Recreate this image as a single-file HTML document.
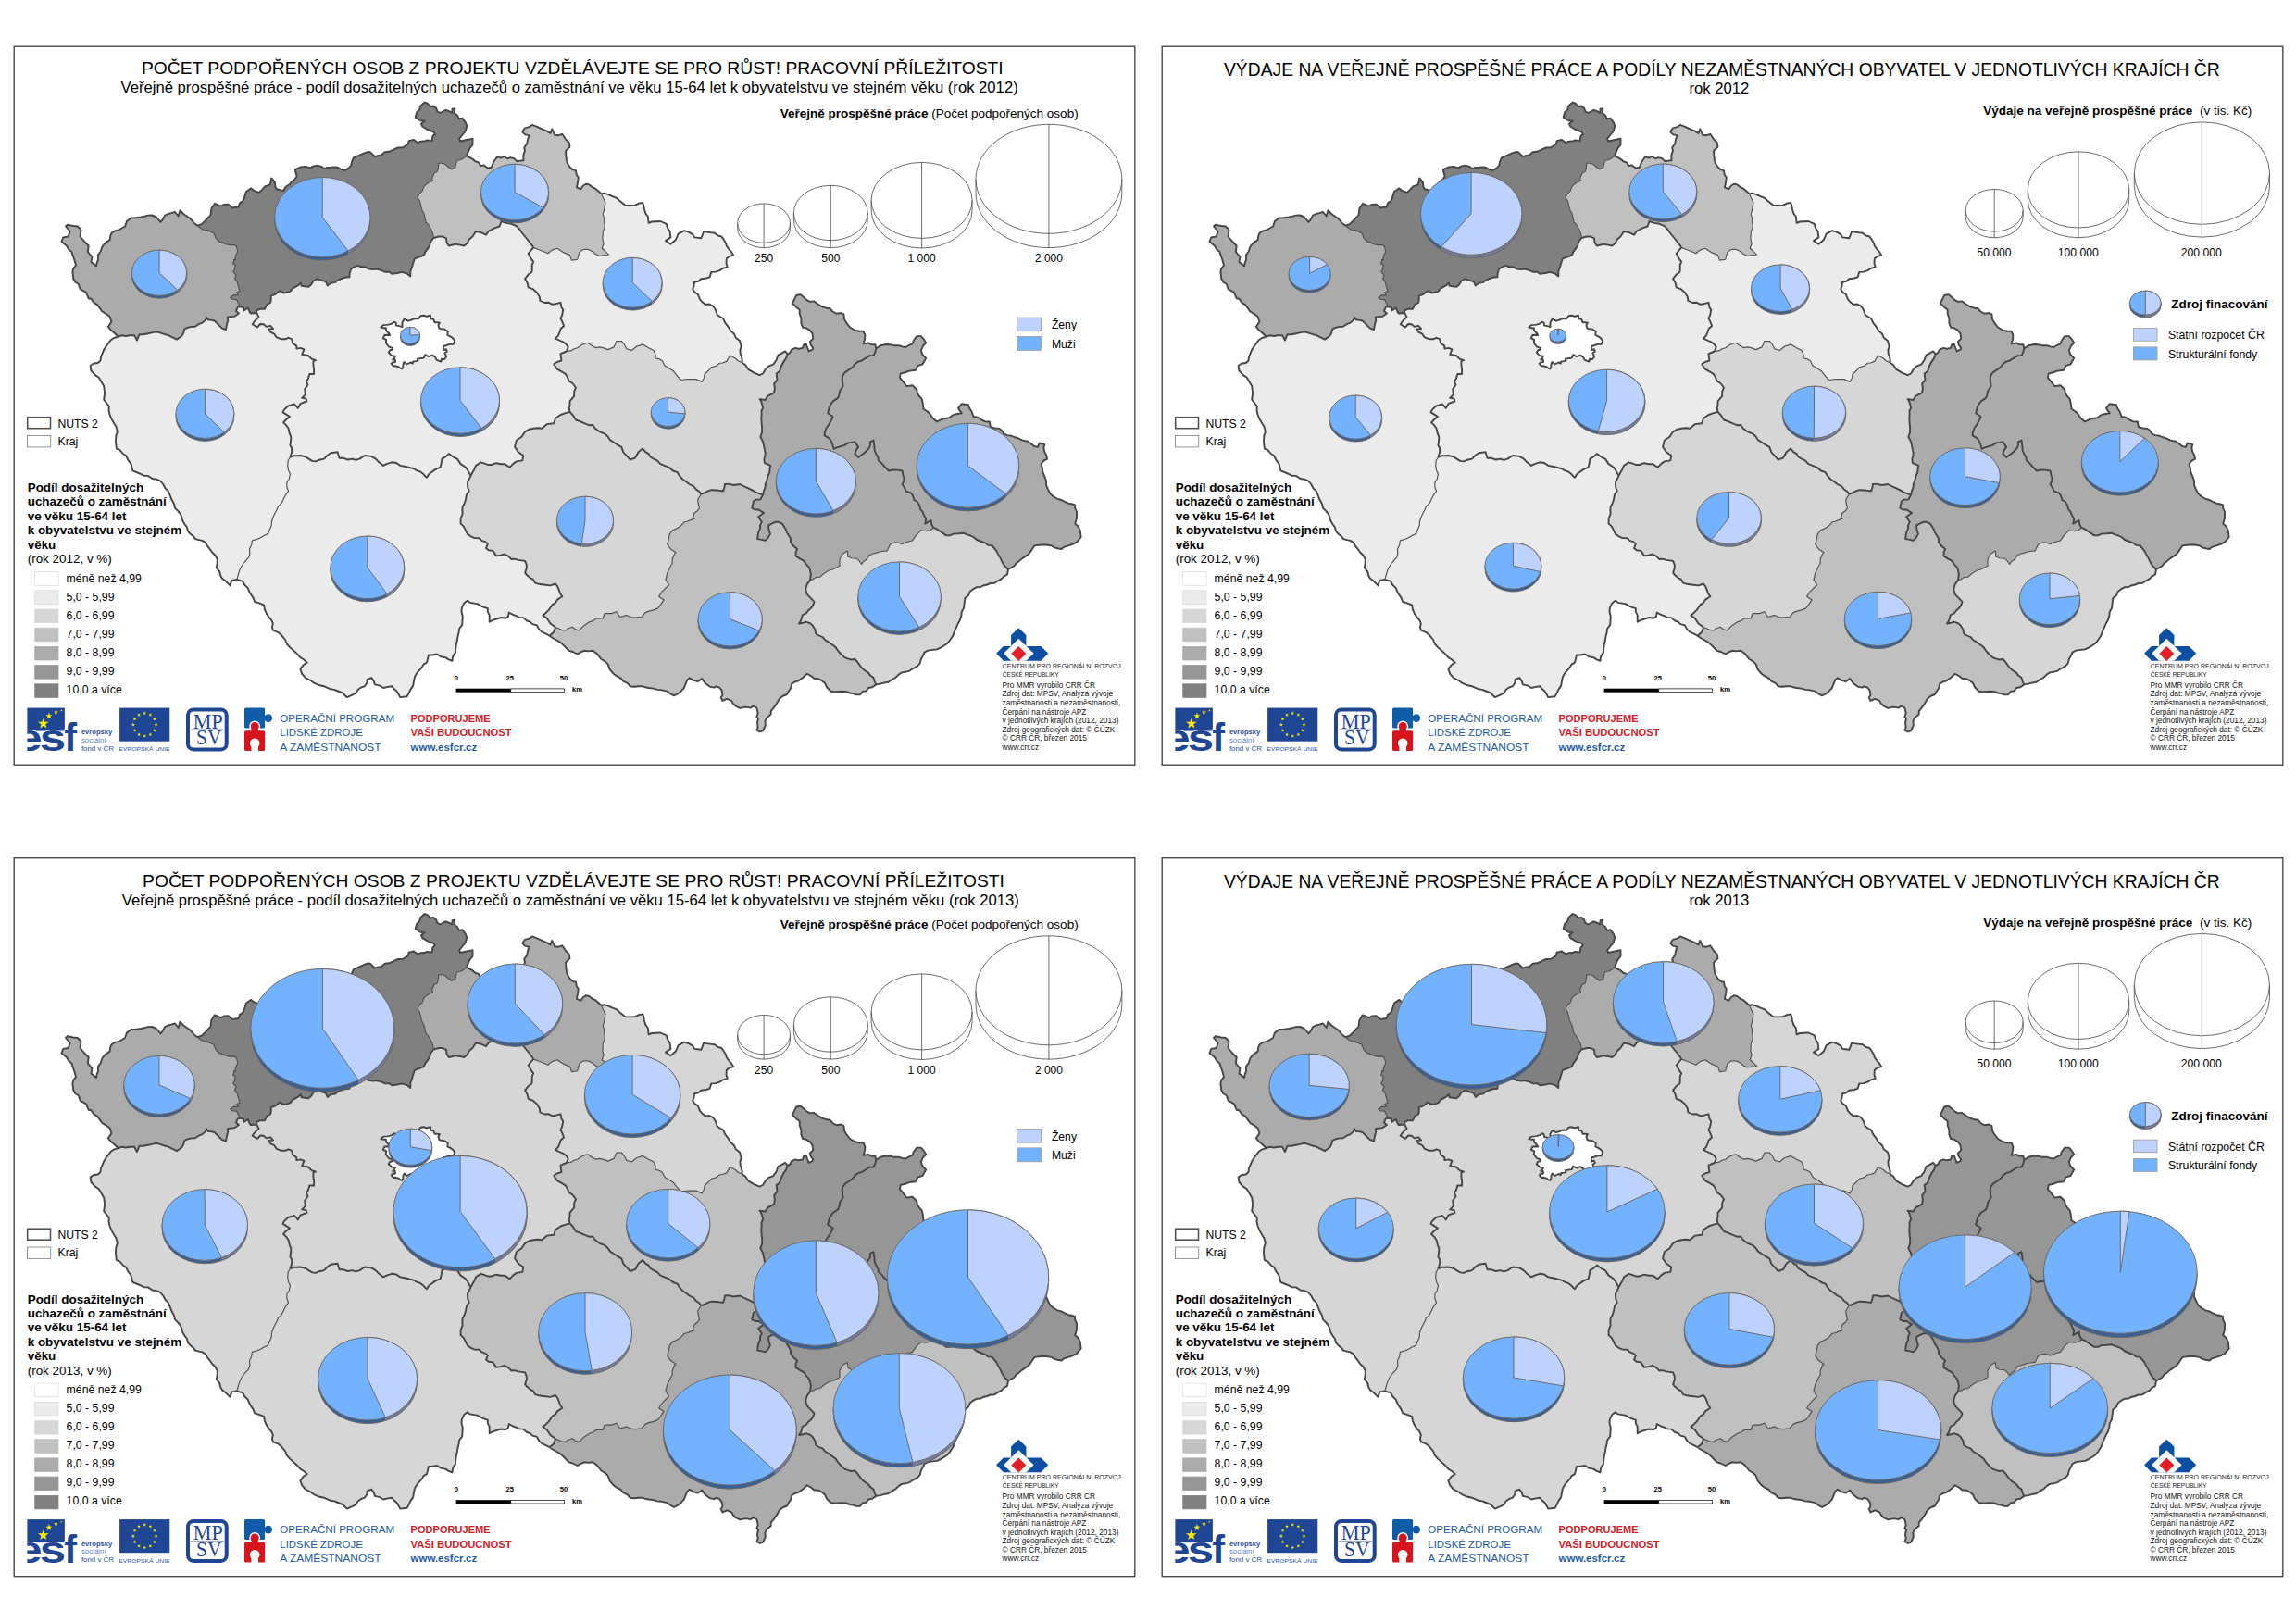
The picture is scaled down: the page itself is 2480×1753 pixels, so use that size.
<!DOCTYPE html>
<html><head><meta charset="utf-8"><title>Mapy</title>
<style>
html,body{margin:0;padding:0;background:#fff}
body{width:2480px;height:1753px;overflow:hidden;font-family:"Liberation Sans",sans-serif}
svg{display:block}
text{font-family:"Liberation Sans",sans-serif}
</style></head><body>
<svg width="2480" height="1753" viewBox="0 0 2480 1753" font-family="Liberation Sans, sans-serif">
<defs>
<path id="rKV" d="M127.7,363.5 123.2,359.3 120.1,356.8 116.8,352.9 120.4,347.4 118.6,342 115.3,339.4 110.4,336.5 107.8,332.9 104.9,329.1 101,326.6 98.5,322.7 95.7,322.3 93,315.9 86.6,312.2 84.8,306.7 81.4,304.7 79.3,301.2 78.4,293.9 79.1,290.4 82,286.6 80.2,280.2 78.5,275.7 77.4,272 74.3,269.6 72,265.5 66.5,261 68.3,256.4 73.8,255.5 75.6,250 71,244.5 72.9,242.7 79,244 83.8,244.5 87.5,248.2 86.6,255.5 91.2,261 95.7,265.5 94.8,272 99.4,277.4 98.5,282.9 104,287.5 104.7,283.7 106.1,280.4 105.8,275.6 108.7,271.7 110.4,266.5 113.5,262.6 118.6,259.1 119.2,254.9 120.4,251.8 124.4,249.3 128.7,248.2 135.1,244.5 136.9,239 141.5,235.4 146.8,235.3 152.4,234.5 155.4,233.8 159.8,232.6 164.1,232.5 168.9,234.5 173.5,239.9 176,236.6 178,232.6 181.7,231 185,230.2 189,229 192.7,233.5 194.5,227.1 198,231 201.8,233.5 205.2,235.7 208,239 209.9,241.2 213.4,243.6 216.4,246.3 220.1,248.2 224.4,248.9 228,250.4 231.1,251.8 232.9,256.8 236.6,261 241,262.4 243.9,263.7 248.4,264.6 254,264.6 255.9,267.5 256.7,272 254.4,276.8 254,281.1 253,280 251.8,284.9 254.3,286.1 253,292.2 251.8,293.4 254.9,297.1 253.7,301.3 256.1,304.4 257.9,310.5 259.1,314.8 255.5,316 257.3,319 252.4,318.7 248.8,321.5 251.2,323.3 255.5,323.6 257.9,328.2 258.5,331.2 256.7,331.8 254.9,336.1 257.9,338.5 253.7,341.6 249.7,342 245.7,342.8 246.3,345.9 245.1,350.1 243.9,356.2 239.6,354.4 236.6,351.3 231.7,346.5 228.6,345.9 224.4,345.2 223.2,342.8 222,345.6 218.6,348.6 214.6,350.2 210.7,352.7 207.3,352.9 202.9,353.7 199.1,355.7 198.2,359.5 196.3,363 190.9,366.6 185.4,363.9 181.2,361.8 178,361.2 172.8,359.3 168.9,358.4 163.8,359.4 159.8,360.2 154.9,361.3 150.6,361.2 147.9,367.6 145.1,362.1 140.2,362.2 136,363 131.3,362.3 127.7,363.5Z"/>
<path id="rUL" d="M213.4,243.6 217.8,242.1 222,238.1 224.9,234.9 227.4,232.6 228.4,225.3 232,219.8 238.4,222.6 242.3,220.9 246.6,220.7 251.2,224.4 257.6,223.5 259,219.4 262.4,217 264,213.4 265.9,207 271.3,203.4 274.8,206.2 279.6,207.9 283.2,204.9 286,201.5 291.5,199.7 292.6,196.2 293.3,192.4 297,197 297.3,201.5 298.8,204.3 302.7,205.2 306.1,206.1 308.6,201.8 312.9,199 315.2,196 318.2,194 320.7,190.5 319.5,186.6 318.9,183.2 324.4,180.5 329.9,179.9 335.4,181.4 338.2,179.6 342.7,178.7 347.2,179.8 350,182.3 353.1,181 357.9,180.8 361,180.5 364.9,180.8 368.9,183.2 372,184.1 376.5,181.6 379.3,178.7 380.1,174.5 382,170.4 388.4,167.7 393.5,165.3 397.6,164 400,164.3 404.7,169 411.8,167.4 415.7,164.3 420.6,163.8 425.9,161.1 430,159.5 435.3,159.2 440.8,155.7 441.6,152.1 447,151 451,154.1 454.8,152.7 458.8,152.5 461.1,151.4 466.6,152.1 467.4,147 469.8,144.7 468.2,142.3 462.7,140.4 456.4,136.8 454.9,133.7 458.8,130.6 454.1,130.2 448.6,126.7 450.2,121.2 453.3,118.4 454.1,114.5 458.8,110.6 461.9,111.8 464.3,114.9 468.2,114.5 471.3,116.9 472.1,120 475.3,122 481.5,118.8 485.5,120.4 488.2,122 488.6,117.6 491.3,117.2 490.9,122.3 494.1,124.7 495.6,128.2 499.6,127.8 502.7,132.1 504.3,136.1 502.7,141.6 499.6,145.5 496,149.8 497.2,152.5 504.3,151 510.5,149.8 510.5,156.4 507.8,159.6 505.9,163.6 504,168.4 501.1,170.6 498,172.5 493.7,173.3 492.5,177.2 491.7,181.5 487.8,182.7 484.7,180.7 480.7,177.2 476.8,176 473.7,176.4 473.3,181.5 472.1,185.5 469,187 466.6,192.5 467.4,195.3 462.7,197.2 458,201.1 456.4,205.8 452.5,209.8 451,213.7 453.3,216.8 454.1,220 455.5,226.2 458.2,231 459.1,235.4 460.1,239.8 462.8,242.7 465.4,247.2 467.4,251.8 468.3,257 465.3,260.9 464.3,264.6 462,268.7 459.3,272.2 457.9,275.6 453.6,277.3 447.9,279.3 446.3,284.1 445.1,288.4 443.4,292.7 443.3,298.5 439.6,295.6 434.1,293.9 429.2,295 423.2,295.7 420.5,293.8 415.6,293.7 412.2,292.1 406.7,290.5 402.8,291 397.6,290.2 394.8,288.5 389.7,288.3 386.6,286.6 383.5,288 379.3,290.2 377.7,295.3 377.4,299.4 373.3,299.5 368.3,301.1 364.6,303 361.9,305.1 357.6,305.5 353.7,308.5 351.8,304 347.2,302.9 342.7,301.2 338.5,303.5 336.2,307.2 332.9,309.9 325.6,308.7 325,305.6 321.3,308.7 315.9,311.7 313.4,314.8 306.7,316.6 302.4,314.1 297.6,317.8 292.7,319.6 292.8,324.1 292.1,327 288.4,328.8 286,333.7 281.1,333.7 276.8,335.5 277.2,338 270.7,338.5 269.5,336.7 267.7,332.4 263.4,335.5 262.8,331.8 258.5,331.2 257.9,328.2 255.5,323.6 251.2,323.3 248.8,321.5 252.4,318.7 257.3,319 255.5,316 259.1,314.8 257.9,310.5 256.1,304.4 253.7,301.3 254.9,297.1 251.8,293.4 253,292.2 254.3,286.1 251.8,284.9 253,280 254,281.1 254.4,276.8 256.7,272 255.9,267.5 254,264.6 248.4,264.6 243.9,263.7 241,262.4 236.6,261 232.9,256.8 231.1,251.8 228,250.4 224.4,248.9 220.1,248.2 216.4,246.3 213.4,243.6Z"/>
<path id="rLB" d="M504,168.4 509.8,171.3 513.7,174.5 516.8,175.3 519.2,179.2 522.3,178.4 527,181.5 530.9,180.7 533.3,174.5 537.2,169.4 541.1,170.6 544.3,169 548.2,171.3 551.3,170.2 555.3,171.1 558.4,174.1 565.4,173.3 565.4,167.4 567,162.7 566.2,159.6 569.3,154.9 570.1,150.2 571.7,146.3 567,145.1 564.2,142.3 567,138.4 571.7,137.2 574.8,134.9 580,136.8 585.4,139.3 590.2,141.4 594.5,143.9 596.3,139.3 599.1,145.7 603.6,146.2 607.3,144.8 611,150.3 614.6,154 615.5,158.5 611,163.1 611.4,168.3 611.9,173.2 613,176.4 615.5,180.5 618.7,183.3 622,184.1 622.7,188.5 624.7,191.5 624.1,196.8 622.9,202.4 627.4,204.3 629.7,200.8 632.9,198.8 636.4,199.4 640.2,202.4 643.2,203.8 646,206.2 649.4,209.2 651.6,214 654,218.9 653.2,222.9 652.4,227.5 651.2,231.7 652.7,235.3 652.5,238.6 653,242.7 653,246.5 651.2,250.3 651.2,253.7 650.8,258.2 652.1,262.8 650.3,268.3 653.7,271.3 657.6,275.2 652.6,275.5 647.6,276.5 643.7,274.7 640.2,272 636.8,269.9 632.9,269.2 629.2,269.9 625.6,272.9 624.5,277 623.8,280.2 617.4,281.1 615.5,275.6 609.1,272.9 604.8,270.2 601.8,268.3 596.3,270.1 591.8,273.8 585.4,271 580.8,269.2 576.2,267.4 574.4,264.6 571.6,261 567.1,255.5 564.6,252.5 561.6,248.2 557.9,244.1 552.4,241.8 547,240.9 541.5,239 539.6,244.5 534.9,246.1 530.5,248.2 527.6,249.9 525,253.7 521.4,251.9 518,250.7 514,250 510.4,255.5 506.7,258.7 504.5,263 501.2,265.5 497.3,264.6 492.1,263.7 489.1,264.5 484.8,265.5 482.5,262 482,257.3 477.3,255.4 473.8,255.5 468.3,257 467.4,251.8 465.4,247.2 462.8,242.7 460.1,239.8 459.1,235.4 458.2,231 455.5,226.2 454.1,220 453.3,216.8 451,213.7 452.5,209.8 456.4,205.8 458,201.1 462.7,197.2 467.4,195.3 466.6,192.5 469,187 472.1,185.5 473.3,181.5 473.7,176.4 476.8,176 480.7,177.2 484.7,180.7 487.8,182.7 491.7,181.5 492.5,177.2 493.7,173.3 498,172.5 501.1,170.6 504,168.4Z"/>
<path id="rHK" d="M649.4,209.2 652.8,208.8 656.7,209.9 660.4,211.6 666,213.8 669.5,217.1 675,221.6 679.9,221.9 686,221.6 689.7,219.8 694.2,218.9 695.2,221.9 696,226.2 697.5,230.9 699.7,233.5 700.2,237.2 700.6,240.9 704.1,239.5 708.7,239.3 713.4,239 719.8,241.8 720.8,245.7 723.5,250 724.4,256.4 718.9,260.1 724.4,263.7 729.9,259.1 732.6,252.7 739,249.1 744.5,250.9 748.5,253.4 750,256.4 757.3,257.3 758.6,254.2 760.1,250 763.3,250.6 768.8,251.4 772,251.8 775.6,254.5 779.3,255.5 781.5,258.4 783.8,262.2 784.8,265.5 787.4,269.3 789.7,271.7 792.1,275.6 787.4,277.2 784.8,279.3 784.5,284.4 785.7,288.4 780.9,289.8 777.4,292.1 772.9,293.6 768.3,293.9 766.5,299.4 762.7,300.5 757.3,301.2 754.4,303.8 750,304.9 749.5,309 748.2,312.2 750.2,315.6 753.7,317.7 756,323.4 759.1,326.8 762.2,328.9 766.2,328.5 770.1,330.5 772.8,334.5 774.7,340 778.3,342.5 781.1,343.8 783.2,348.7 786.6,352.9 789.3,357.4 792.9,360.5 794.7,364.7 799,368.1 800.7,374.2 799.3,378.4 799.8,381.9 801.6,388 801.6,391.7 797.3,389.7 793.9,386.8 788.4,384 784.8,390.4 780.5,392 777.4,392.3 773.4,395.4 768.3,396.8 765.3,400.2 761,404.1 760.6,408 758.2,412.4 751.8,409.6 744.5,409.6 740.6,409.7 735.4,410.5 732.3,406.9 729.9,404.1 727.3,400.7 724.4,398.7 718,395 715.2,389.5 712.4,387.9 707.9,386.8 708,383 706.1,378.5 700.6,375.8 694.2,372.1 687.8,374 682.3,378.5 676.8,376.7 674.1,371.7 671.3,368.5 665.9,368.5 663.1,374.9 656.7,377.6 652.1,375.9 647.6,374.9 643.9,375.6 640.2,374 634.8,370.3 630.8,371.4 627.4,373 623.8,375.8 620.1,376.7 616.6,378.9 611.9,379.5 613.7,374.9 611.2,371.5 608.2,369.4 603.9,367.5 600,365.7 603,362.4 604.6,358.4 605.7,355 609.1,352 607.5,347.8 605.5,343.8 607.2,340.1 608.2,334.6 606.3,331.7 605.5,326.8 600.4,328.2 596.3,328.7 592.6,326.8 588.2,327 583.5,325 582.7,320.4 579.9,315.9 575.4,312.1 570.7,310.4 569.6,305.4 567.1,301.2 570.6,296.6 574.4,293.9 574.8,290.9 574.7,286 576.2,282.9 573.4,279.1 570.7,273.8 573,271.2 576.2,267.4 580.8,269.2 585.4,271 591.8,273.8 596.3,270.1 601.8,268.3 604.8,270.2 609.1,272.9 615.5,275.6 617.4,281.1 623.8,280.2 624.5,277 625.6,272.9 629.2,269.9 632.9,269.2 636.8,269.9 640.2,272 643.7,274.7 647.6,276.5 652.6,275.5 657.6,275.2 653.7,271.3 650.3,268.3 652.1,262.8 650.8,258.2 651.2,253.7 651.2,250.3 653,246.5 653,242.7 652.5,238.6 652.7,235.3 651.2,231.7 652.4,227.5 653.2,222.9 654,218.9 651.6,214 649.4,209.2Z"/>
<path id="rPA" d="M801.6,391.7 805,394 808.5,399.2 814.5,402.6 820.5,405.2 824,403.5 826.6,399.2 830,395.7 835.2,393.6 838.7,388.8 840.4,383.7 843.8,381.9 848.1,379.4 850.6,382.4 849,387.1 846.4,390.6 843.8,395.7 842.1,400.9 838.7,403.5 839.5,410.4 836.1,414.7 836.9,419 836.1,424.2 832.9,425.9 829.2,427.7 826.6,432 820.5,431.1 821.3,431.6 823.2,436.4 824.1,440.7 822.5,443.8 822.6,447.7 822.3,451.7 822.6,457 823.2,462.7 823.1,466.9 821.3,471.8 824,476.8 825,481 825.8,485.1 826.8,490.1 825.4,495.9 825.9,500.2 832.3,502.9 831.6,506 831.3,509.8 829.6,513.9 828.7,517.9 826.8,523 826.5,526.6 824.7,531.2 824.1,534.4 819.2,532.8 815.9,531.3 811,528.6 806.7,526.7 803.1,525 799.4,523 792.1,524 786.9,522.6 782.9,523 782.4,526.5 781.1,530.4 773.8,529.5 768.7,529.2 764.6,530.4 760.8,532.5 757.3,533.7 755.4,531.1 751.8,528.5 749.1,525.2 744.5,523 741,520.3 737.2,517.6 734.4,514.4 731.7,510.2 727,508.5 722.6,504.8 718.3,503.1 713.4,501.1 709.8,497.3 706.1,495.6 702.3,493.3 700.6,490.1 697.4,488.3 694.2,484.6 689.6,488.3 686,494.7 680.5,496.5 677.5,492.8 673.2,488.3 671.3,482.8 666,479.8 662.2,477.3 658.8,475.1 656.7,471.8 653,468.3 647.6,466.3 642.8,462.7 640.2,459 636,459.2 631.1,457.2 626.6,455.1 622,453.5 618.9,448.5 615.5,444.8 614.7,440.5 615.5,437.4 615.5,433.4 620.1,427.9 620.2,422.6 622,418.8 618.7,414.2 614.6,411.5 612.9,407.4 611,404.1 606.5,401.3 601.8,398.7 598.2,393.2 602.2,390.8 606.4,389.5 605.5,382.2 611.9,379.5 616.6,378.9 620.1,376.7 623.8,375.8 627.4,373 630.8,371.4 634.8,370.3 640.2,374 643.9,375.6 647.6,374.9 652.1,375.9 656.7,377.6 663.1,374.9 665.9,368.5 671.3,368.5 674.1,371.7 676.8,376.7 682.3,378.5 687.8,374 694.2,372.1 700.6,375.8 706.1,378.5 708,383 707.9,386.8 712.4,387.9 715.2,389.5 718,395 724.4,398.7 727.3,400.7 729.9,404.1 732.3,406.9 735.4,410.5 740.6,409.7 744.5,409.6 751.8,409.6 758.2,412.4 760.6,408 761,404.1 765.3,400.2 768.3,396.8 773.4,395.4 777.4,392.3 780.5,392 784.8,390.4 788.4,384 793.9,386.8 797.3,389.7 801.6,391.7Z"/>
<path id="rSC" d="M277.2,338 276.8,335.5 281.1,333.7 286,333.7 288.4,328.8 292.1,327 292.8,324.1 292.7,319.6 297.6,317.8 302.4,314.1 306.7,316.6 313.4,314.8 315.9,311.7 321.3,308.7 325,305.6 325.6,308.7 332.9,309.9 336.2,307.2 338.5,303.5 342.7,301.2 347.2,302.9 351.8,304 353.7,308.5 357.6,305.5 361.9,305.1 364.6,303 368.3,301.1 373.3,299.5 377.4,299.4 377.7,295.3 379.3,290.2 383.5,288 386.6,286.6 389.7,288.3 394.8,288.5 397.6,290.2 402.8,291 406.7,290.5 412.2,292.1 415.6,293.7 420.5,293.8 423.2,295.7 429.2,295 434.1,293.9 439.6,295.6 443.3,298.5 443.4,292.7 445.1,288.4 446.3,284.1 447.9,279.3 453.6,277.3 457.9,275.6 459.3,272.2 462,268.7 464.3,264.6 465.3,260.9 468.3,257 473.8,255.5 477.3,255.4 482,257.3 482.5,262 484.8,265.5 489.1,264.5 492.1,263.7 497.3,264.6 501.2,265.5 504.5,263 506.7,258.7 510.4,255.5 514,250 518,250.7 521.4,251.9 525,253.7 527.6,249.9 530.5,248.2 534.9,246.1 539.6,244.5 541.5,239 547,240.9 552.4,241.8 557.9,244.1 561.6,248.2 564.6,252.5 567.1,255.5 571.6,261 574.4,264.6 576.2,267.4 573,271.2 570.7,273.8 573.4,279.1 576.2,282.9 574.7,286 574.8,290.9 574.4,293.9 570.6,296.6 567.1,301.2 569.6,305.4 570.7,310.4 575.4,312.1 579.9,315.9 582.7,320.4 583.5,325 588.2,327 592.6,326.8 596.3,328.7 600.4,328.2 605.5,326.8 606.3,331.7 608.2,334.6 607.2,340.1 605.5,343.8 607.5,347.8 609.1,352 605.7,355 604.6,358.4 603,362.4 600,365.7 603.9,367.5 608.2,369.4 611.2,371.5 613.7,374.9 611.9,379.5 605.5,382.2 606.4,389.5 602.2,390.8 598.2,393.2 601.8,398.7 606.5,401.3 611,404.1 612.9,407.4 614.6,411.5 618.7,414.2 622,418.8 620.2,422.6 620.1,427.9 615.5,433.4 615.5,437.4 614.7,440.5 615.5,444.8 611,446.2 605.5,448 600,451.7 598.2,457.2 590.9,458.1 585.4,462.7 581.4,462.3 576.2,462.7 571.7,463.7 567.1,466.3 563.4,471.8 557.9,475.5 556.9,478.9 556.1,482.8 559.8,488.3 565.2,492 564.3,497.4 557.9,498.4 554.3,500.9 550.6,504.8 545.1,501.1 540.9,501.2 536,500.2 530.9,502 526.8,502 523.5,500.6 519.5,499.3 514,502.9 512.1,507.4 510.4,510.2 508.5,513.9 505.8,509 503,504.8 497.6,501.1 493.9,495.6 489.6,493.6 484.8,490.1 481.6,493.1 477.4,495.6 476.7,500.2 475.6,504.8 471.4,506.4 468.3,508.4 463.4,511.9 461,515.7 459.8,514.8 457.1,511.8 454,509.4 450.6,508.4 446.3,506 441.5,504.8 436.9,503.8 432.3,502.9 428,500 423.2,499.3 418.2,500.8 414,502.9 408.5,498.4 405.8,495.6 401.2,492.9 393.9,492 388.4,495.6 384.3,496.9 380.6,495.6 375.6,496.5 371.1,494.8 366.5,494.7 364.6,488.3 357.3,489.2 353.3,492.1 350,495.6 344.9,496.7 340.9,498.4 337.2,497.9 333.5,495.6 329.8,493.2 324.4,492 320.1,492.2 317.3,492.2 313.4,493.8 315.2,488.3 315.1,483.8 313.4,481 314.1,476.2 314.3,471.8 312.6,467.6 311.6,462.7 309.5,459.7 306.1,456.3 308.7,453.4 312.9,450 309.2,447.6 305.5,445.4 307,442.4 311.4,438.3 318.1,436.5 321.8,440.9 324.7,435.8 331.4,433.5 330.6,430.6 326.2,429.8 329.9,426.1 329.2,420.2 332.5,415.8 331,412.1 332.9,409.1 334.3,404 339.1,404 339.1,398.8 338.4,394.3 338.4,389.9 341,389.2 336.6,387.7 332.9,384 326.2,382.9 328.4,377.3 324.7,375.9 320.3,376.6 320.3,373.6 316.2,370.7 315.1,366.2 311.4,364.8 308.5,366.2 303.3,366.2 298.8,364.4 295.9,360.3 292.2,358.8 290,355.5 295.1,355.1 292.2,351.8 287.7,352.9 284.8,350.3 281.1,350 278.1,353.3 275.2,351.8 272.6,350.3 274.4,347.7 277.4,344.4 279.6,342.6 277.2,338Z"/>
<path id="rPL" d="M127.7,363.5 131.3,362.3 136,363 140.2,362.2 145.1,362.1 147.9,367.6 150.6,361.2 154.9,361.3 159.8,360.2 163.8,359.4 168.9,358.4 172.8,359.3 178,361.2 181.2,361.8 185.4,363.9 190.9,366.6 196.3,363 198.2,359.5 199.1,355.7 202.9,353.7 207.3,352.9 210.7,352.7 214.6,350.2 218.6,348.6 222,345.6 223.2,342.8 224.4,345.2 228.6,345.9 231.7,346.5 236.6,351.3 239.6,354.4 243.9,356.2 245.1,350.1 246.3,345.9 245.7,342.8 249.7,342 253.7,341.6 257.9,338.5 254.9,336.1 256.7,331.8 258.5,331.2 262.8,331.8 263.4,335.5 267.7,332.4 269.5,336.7 270.7,338.5 277.2,338 279.6,342.6 277.4,344.4 274.4,347.7 272.6,350.3 275.2,351.8 278.1,353.3 281.1,350 284.8,350.3 287.7,352.9 292.2,351.8 295.1,355.1 290,355.5 292.2,358.8 295.9,360.3 298.8,364.4 303.3,366.2 308.5,366.2 311.4,364.8 315.1,366.2 316.2,370.7 320.3,373.6 320.3,376.6 324.7,375.9 328.4,377.3 326.2,382.9 332.9,384 336.6,387.7 341,389.2 338.4,389.9 338.4,394.3 339.1,398.8 339.1,404 334.3,404 332.9,409.1 331,412.1 332.5,415.8 329.2,420.2 329.9,426.1 326.2,429.8 330.6,430.6 331.4,433.5 324.7,435.8 321.8,440.9 318.1,436.5 311.4,438.3 307,442.4 305.5,445.4 309.2,447.6 312.9,450 308.7,453.4 306.1,456.3 309.5,459.7 311.6,462.7 312.6,467.6 314.3,471.8 314.1,476.2 313.4,481 315.1,483.8 315.2,488.3 313.4,493.8 311.2,497.5 310.7,502.9 311.6,507.9 313.4,512.1 312.3,517.5 309.8,521.2 309.9,526.2 311.6,530.4 308.2,535.1 306.1,539.5 304,543.7 300.6,546.8 298.8,551 296.7,555.1 295.1,558.3 293.4,563.2 293.3,567.4 291,572.5 289.6,576.6 285.5,578.2 282.3,580.2 278.2,582.3 272.3,583.9 271.7,588.5 269.5,593 269.9,598.2 268.6,602.2 265.2,605.9 262.2,609.5 260,613.3 258.5,616.8 257.4,620.6 255.8,626 250.3,626.9 248.5,632.4 243.9,627.8 240.2,625.1 238.4,622.3 237.3,617.6 233.8,613.2 234.6,609.2 234.8,604 232.5,599.7 229.3,596.7 226.4,592.7 223.8,589.4 221.8,585.9 218.3,583.9 213.9,582.8 211,582.1 209.1,579.4 205.5,576.6 203,573.6 201.8,569.3 199.3,566 197,561.9 196.3,558.3 194.5,554.7 192,551.6 189,548.7 188.1,544.5 185.4,539.5 183.5,534.6 181.7,530.4 178.8,527.7 176.2,523 173.1,519.4 168.9,517.6 164.6,517 159.8,513.9 155.4,513.7 152.4,512.1 147.3,510 143.3,508.4 142.4,504.7 141.5,501.1 138.2,496.5 136,492 132.7,490 129.5,486.1 125.9,484.6 125.2,479.3 125,475.5 125.4,470.5 126.8,466.3 125.6,461.1 123.2,457.2 120.3,452.1 118.6,448 117.6,443.7 117.7,438.9 115.2,435.5 112.2,431.6 113.1,424.3 112.2,417 109.4,412.2 106.7,407.8 102.8,405.1 98.5,400.5 97.6,395 101.4,392.5 105.6,392 108.5,389.5 109,385.3 110.4,382.2 112.2,377.8 114,374.9 116.7,371.3 119.5,367.6 123,365.1 127.7,363.5Z"/>
<path id="rJC" d="M255.8,626 257.4,620.6 258.5,616.8 260,613.3 262.2,609.5 265.2,605.9 268.6,602.2 269.9,598.2 269.5,593 271.7,588.5 272.3,583.9 278.2,582.3 282.3,580.2 285.5,578.2 289.6,576.6 291,572.5 293.3,567.4 293.4,563.2 295.1,558.3 296.7,555.1 298.8,551 300.6,546.8 304,543.7 306.1,539.5 308.2,535.1 311.6,530.4 309.9,526.2 309.8,521.2 312.3,517.5 313.4,512.1 311.6,507.9 310.7,502.9 311.2,497.5 313.4,493.8 317.3,492.2 320.1,492.2 324.4,492 329.8,493.2 333.5,495.6 337.2,497.9 340.9,498.4 344.9,496.7 350,495.6 353.3,492.1 357.3,489.2 364.6,488.3 366.5,494.7 371.1,494.8 375.6,496.5 380.6,495.6 384.3,496.9 388.4,495.6 393.9,492 401.2,492.9 405.8,495.6 408.5,498.4 414,502.9 418.2,500.8 423.2,499.3 428,500 432.3,502.9 436.9,503.8 441.5,504.8 446.3,506 450.6,508.4 454,509.4 457.1,511.8 459.8,514.8 461,515.7 463.4,511.9 468.3,508.4 471.4,506.4 475.6,504.8 476.7,500.2 477.4,495.6 481.6,493.1 484.8,490.1 489.6,493.6 493.9,495.6 497.6,501.1 503,504.8 505.8,509 508.5,513.9 506.9,517.2 504.9,521.2 505.2,526.2 506.7,530.4 504.1,534 503,539.5 501.7,543.7 499.7,547.2 499.4,550.5 499.6,555.1 497.6,560 497.6,565.6 500.7,568.4 503,572.9 505,576.9 508.5,579.3 512.7,581.1 517.7,581.2 520.2,583.9 524.4,585.3 526.8,587.6 525,592.1 527.7,594.2 532.3,594.9 536,600.4 540.8,599.6 545.1,598.5 549,600.6 552.4,604 555.7,603.6 559.8,604.9 567.1,605.9 568.6,609.6 568.9,613.2 567.1,618.7 569.3,621.3 572.6,624.1 575.9,625.9 578,629.6 582,630.8 587.2,631.5 594.5,632.4 600,630.5 602,633.1 603.7,637 605,641 607.3,644.3 601.8,647.9 600.2,650.9 596.3,653.4 592.7,658.9 589.6,661.9 586.3,664.4 590.9,668 594.5,673.5 600,677.6 598.2,682.7 593.6,686.7 589.8,684.7 585.4,682.7 582,679.3 579.9,675.4 575.2,674.1 572.6,671.7 569.1,670.5 565.2,667.1 560.7,666.9 557.9,665.3 554.2,664 549.7,661.6 548.8,666.2 546,667.7 541.2,667 537.8,668 532.7,669.6 528.7,671.7 528.7,664.4 526.8,660.9 526.8,657.1 522.6,655.8 519.5,654.3 515.5,652.1 512.2,651.6 507.7,650.9 504.9,648.8 501.2,651.6 498.8,656.6 498.5,660.7 499.8,665.7 499.4,671.7 499.2,674.9 496,679.3 495.7,682.7 494.4,687.7 493.9,691.8 492.8,696 492.1,701 491.9,704.9 489.2,708.9 488.4,713.8 484.7,712.4 481.1,710.1 476.5,709.4 472,706.5 467.1,707.5 462.8,707.4 462.2,711.3 461,715.6 457.5,717.6 455.5,721.1 450.6,726.6 448,731 447,735.7 446.2,740.6 443.3,744.9 441.4,749 439.6,752.2 432.3,753.1 428.7,746.7 425.5,744 423.2,741.2 419,741.9 414,743 410.4,740.7 404.9,739.4 403.9,735.9 401.2,732.1 396.6,733.9 396.4,737.5 393.9,741.2 389.3,742.9 386.6,744.9 384.6,748.4 381.1,750.4 374.7,753.1 370.1,748.5 365.1,746.5 361,744.9 357.1,744.3 353.1,742.6 350,741.2 345.5,740.3 343,739.4 339,737.6 334.7,734.5 329.9,732.1 326.3,727.8 324.4,722.9 327.7,718.3 331.7,715.6 327.9,712.2 324.4,710.1 321.1,706.4 317.1,702.8 313.4,699.4 309.8,695.5 308.1,691 304.3,686.3 300.8,683.2 295.1,680.9 293.9,677.7 294.8,673.4 293.3,669.9 290,665.9 287.8,662.6 285.9,658.2 285.1,653.4 279.7,651.4 275,649.8 273.5,645.6 271.3,642.4 269.3,639.1 267.7,635.1 264,631.5 262.2,627.8 255.8,626Z"/>
<path id="rVY" d="M508.5,513.9 510.4,510.2 512.1,507.4 514,502.9 519.5,499.3 523.5,500.6 526.8,502 530.9,502 536,500.2 540.9,501.2 545.1,501.1 550.6,504.8 554.3,500.9 557.9,498.4 564.3,497.4 565.2,492 559.8,488.3 556.1,482.8 556.9,478.9 557.9,475.5 563.4,471.8 567.1,466.3 571.7,463.7 576.2,462.7 581.4,462.3 585.4,462.7 590.9,458.1 598.2,457.2 600,451.7 605.5,448 611,446.2 615.5,444.8 618.9,448.5 622,453.5 626.6,455.1 631.1,457.2 636,459.2 640.2,459 642.8,462.7 647.6,466.3 653,468.3 656.7,471.8 658.8,475.1 662.2,477.3 666,479.8 671.3,482.8 673.2,488.3 677.5,492.8 680.5,496.5 686,494.7 689.6,488.3 694.2,484.6 697.4,488.3 700.6,490.1 702.3,493.3 706.1,495.6 709.8,497.3 713.4,501.1 718.3,503.1 722.6,504.8 727,508.5 731.7,510.2 734.4,514.4 737.2,517.6 741,520.3 744.5,523 749.1,525.2 751.8,528.5 755.4,531.1 757.3,533.7 753.7,539.5 754.2,543.5 755.5,548.7 753,552.1 750,554.1 748.2,560 750,560.1 746.7,561.4 742.1,563.2 739,563.8 736.5,566.9 733.5,569.3 730.1,571.3 726.2,572.9 723.3,576.9 722.6,580.2 722.1,583.5 720.7,587.6 724.4,593 729.9,596.7 727.8,599.7 726.2,604 726.2,608.5 724.4,611.3 722.5,615.5 720.7,618.7 719.9,623 718.9,626 722.6,631.5 719.3,634.8 715.2,638.8 711.6,644.3 717.1,647.9 713.4,653.4 710.3,657.1 706.1,658.9 700.8,660.1 697,661.6 693.3,666.2 686,667.1 681,666.6 676.8,664.4 673.2,665.6 669.5,666.2 665.9,660.7 660.4,662.6 653,662.6 651.2,668 643.9,668 640.9,670.4 636.6,671.7 631.1,675.4 627.8,678.6 625.6,680.9 621.6,679.8 618.3,677.2 613.7,678.8 611,680.9 607.8,680.7 603.7,679 600,677.6 594.5,673.5 590.9,668 586.3,664.4 589.6,661.9 592.7,658.9 596.3,653.4 600.2,650.9 601.8,647.9 607.3,644.3 605,641 603.7,637 602,633.1 600,630.5 594.5,632.4 587.2,631.5 582,630.8 578,629.6 575.9,625.9 572.6,624.1 569.3,621.3 567.1,618.7 568.9,613.2 568.6,609.6 567.1,605.9 559.8,604.9 555.7,603.6 552.4,604 549,600.6 545.1,598.5 540.8,599.6 536,600.4 532.3,594.9 527.7,594.2 525,592.1 526.8,587.6 524.4,585.3 520.2,583.9 517.7,581.2 512.7,581.1 508.5,579.3 505,576.9 503,572.9 500.7,568.4 497.6,565.6 497.6,560 499.6,555.1 499.4,550.5 499.7,547.2 501.7,543.7 503,539.5 504.1,534 506.7,530.4 505.2,526.2 504.9,521.2 506.9,517.2 508.5,513.9Z"/>
<path id="rJM" d="M600,677.6 603.7,679 607.8,680.7 611,680.9 613.7,678.8 618.3,677.2 621.6,679.8 625.6,680.9 627.8,678.6 631.1,675.4 636.6,671.7 640.9,670.4 643.9,668 651.2,668 653,662.6 660.4,662.6 665.9,660.7 669.5,666.2 673.2,665.6 676.8,664.4 681,666.6 686,667.1 693.3,666.2 697,661.6 700.8,660.1 706.1,658.9 710.3,657.1 713.4,653.4 717.1,647.9 711.6,644.3 715.2,638.8 719.3,634.8 722.6,631.5 718.9,626 719.9,623 720.7,618.7 722.5,615.5 724.4,611.3 726.2,608.5 726.2,604 727.8,599.7 729.9,596.7 724.4,593 720.7,587.6 722.1,583.5 722.6,580.2 723.3,576.9 726.2,572.9 730.1,571.3 733.5,569.3 736.5,566.9 739,563.8 742.1,563.2 746.7,561.4 750,560.1 748.2,560 750,554.1 753,552.1 755.5,548.7 754.2,543.5 753.7,539.5 757.3,533.7 760.8,532.5 764.6,530.4 768.7,529.2 773.8,529.5 781.1,530.4 782.4,526.5 782.9,523 786.9,522.6 792.1,524 799.4,523 803.1,525 806.7,526.7 811,528.6 815.9,531.3 819.2,532.8 824.1,534.4 821.3,539.5 816.7,539.6 814,541.3 813.3,544.3 812.2,548.7 815.5,550.5 819.5,550.5 825,554.1 819.1,558.3 822.8,563.8 821,567.4 821,571.1 819.5,574.1 818.6,577.8 818.2,582.1 822.9,582.9 826.5,583.9 829.5,581.1 832,576.6 830.5,572.3 830.1,567.4 833.6,565.7 837.4,563.8 840.9,563.8 844.8,565.6 848.4,571.1 850.1,575.5 852.1,578.4 854,581.9 853.9,585.7 856.6,589.2 861.2,593 859.7,595.9 859.4,600.4 863.9,603.4 868.5,605.9 870.8,609.5 874,613.2 875.2,616.9 875.9,620.5 874.9,626.9 872.1,630.3 870.4,635.1 870.5,638.4 872.2,642.4 876.3,646.6 879.5,649.8 878.4,653.4 875.9,657.1 873.1,659.3 870.8,662.4 866.7,664.4 865.3,669.9 863,673.5 867.4,672.8 870.4,671.7 874.8,673.1 877.7,675.4 880.3,679.7 881.3,684.5 884.7,686.5 888.7,688.2 891.3,691.3 895.1,693.6 897.8,695.5 902.6,699.1 905.1,702.8 908.4,706.5 912.4,710.1 915.6,711.3 919.7,712.5 923.4,712 926.3,715.2 928,717.6 930.7,721.1 933.5,723.8 938,726.6 940,729.6 943.5,732.1 944.9,736.6 946.3,739.4 942.1,742.3 938,743 935.6,746.4 931.8,746.8 928.9,750.4 925,750.4 921.3,749.1 917.9,748.5 914,747 908.8,746.7 903.6,747.1 897.8,746.7 897.5,746.8 893.2,742.5 891.2,738.1 887.4,734.9 883.6,733.2 879.2,732.7 876.6,730.5 871.7,727.7 867.5,731.8 862.6,735.3 858.6,736.5 855,738.8 854.3,743 851.5,747.2 850.1,750 846.1,751.5 842.4,754.1 839,759.7 836.2,763.9 832.7,768.1 832.7,771.6 827.8,775.7 826.4,779.2 826.8,783.4 824.3,789 820.8,790.4 817.4,788.6 818.7,785.5 818,780.6 819.1,775.7 817.4,774.4 818.7,770.2 817.4,764.6 813.2,762.5 811.1,764.6 805.5,763.6 799.2,764.9 794.4,762.5 791.6,759.7 790.2,756.9 785.3,754.8 780.4,756.9 778.7,753.4 780.4,750.7 779.7,745.8 776.9,742.3 773.4,741.3 771.4,742.6 766.5,741.6 761.6,737.8 758.1,732.9 753.9,736 748.4,734.6 744.9,732.2 742.1,734.6 740,740.2 738.6,743.3 735.4,746.7 732.6,749.1 728,751.3 723.8,749.1 720.7,746.7 714.8,745.3 709.8,744.9 705.7,743.6 700.6,743 697.1,742.3 693.3,741.2 689.6,741.2 684.8,741.7 680.5,741.2 677.8,737.9 673.2,735.7 670.7,732.7 665.9,730.2 662.1,727.2 658.5,722.9 656.7,717.4 652.8,713.8 649.4,712 646.9,708.7 644.1,705.5 640.2,702.8 635,703.4 631.1,702.8 627,704.5 623.8,706.5 618.6,704 614.6,702.8 611.4,699.7 609.1,697.3 605.3,693.9 601.8,691.8 597.3,689.2 593.6,686.7 598.2,682.7 600,677.6Z"/>
<path id="rOL" d="M850.6,382.4 853.3,381.1 855,377.6 859.4,375.9 862.8,376.8 867.1,375.9 868,372.5 870.6,371.6 872.3,375.9 873.6,379.4 877.5,377.6 878.3,375.9 875.7,372.5 874.9,369 878.3,365.6 877.5,360.4 874.9,356.9 870.6,354.3 867.1,353.5 865.4,349.2 865.4,344 863.7,338.8 863.7,334.5 860.2,331.9 855.9,327.6 858.5,322.4 860.2,319 864.5,318.1 868.8,321.6 871.5,324.1 874.9,325.9 879.2,325.4 883.5,328.5 887.8,331.1 893,332.8 896.5,333.2 899,336.2 903.4,338.8 908.5,338 911.5,339.7 912,344.9 914.6,349.2 918,353.5 923.4,356.7 928.2,357.7 932.6,357.6 934.4,362.2 934.1,366.1 932.6,371.3 938,370.4 940.9,372.1 945.4,372.3 946.3,376.5 945.3,380.4 943.5,384.1 939.4,384.1 936.2,386 930.7,389.6 926.7,390.7 923.4,393.3 921.3,396.2 917.9,398.8 912.4,402.4 910,406.1 909.7,409.8 910.6,417.1 907,422.6 906.7,425.6 905.1,429.9 899.6,433.5 896,439 895,442.9 894.1,446.3 899.6,450 898.1,453.4 896,457.3 892.3,462.8 890.9,467 890.5,470.1 896,473.8 898,476.5 899.6,481.1 900.5,484.8 904.4,483.1 908.8,482 912.2,480.8 916.1,478.4 923.4,477.4 927.1,482.9 924.5,486.6 923.4,490.2 927.1,493.9 930.4,491.4 934.4,488.4 938,484.8 939.9,481.6 939.9,477.4 943.5,475.6 944.5,482.9 944.6,486.3 946.3,490.2 948.4,494.1 949,497.6 952.6,500.5 954.5,503 956.9,505.4 960,508.5 964.4,507.5 969.1,507.6 974.6,508.5 975.4,513 976.5,515.9 976.3,519.6 974.6,523.2 977.4,527.2 978.3,530.5 983.8,532.3 986,535.2 987.4,540 990.7,541.9 992.9,545.5 994.2,550.1 996.6,552.8 998.3,557.4 1000.2,560.1 999.3,565.6 1005.7,562 1006.1,566.1 1008.5,570.2 1004.8,572.8 1000.2,573.8 994.8,572.9 992.6,575.1 989.3,578.4 985.6,583.9 982,584.8 978.8,585.7 974.6,587.6 969.1,585.7 964.9,586.3 961.8,587.6 960.3,590.6 958.2,594.9 950.9,595.8 946.5,597.1 941.7,598.5 938.7,600.1 936.2,604 932.3,606.8 930.7,609.5 928,605.6 925.2,603.1 919.8,602.7 916.1,601.3 915.2,594.9 909.7,598.5 907,604 907,611.3 902.7,613.5 899.6,615 896,615.8 891.4,618.4 888.7,620.5 885.7,623.1 881.6,623.4 877.7,626 874.9,626.9 875.9,620.5 875.2,616.9 874,613.2 870.8,609.5 868.5,605.9 863.9,603.4 859.4,600.4 859.7,595.9 861.2,593 856.6,589.2 853.9,585.7 854,581.9 852.1,578.4 850.1,575.5 848.4,571.1 844.8,565.6 840.9,563.8 837.4,563.8 833.6,565.7 830.1,567.4 830.5,572.3 832,576.6 829.5,581.1 826.5,583.9 822.9,582.9 818.2,582.1 818.6,577.8 819.5,574.1 821,571.1 821,567.4 822.8,563.8 819.1,558.3 825,554.1 819.5,550.5 815.5,550.5 812.2,548.7 813.3,544.3 814,541.3 816.7,539.6 821.3,539.5 824.1,534.4 824.7,531.2 826.5,526.6 826.8,523 828.7,517.9 829.6,513.9 831.3,509.8 831.6,506 832.3,502.9 825.9,500.2 825.4,495.9 826.8,490.1 825.8,485.1 825,481 824,476.8 821.3,471.8 823.1,466.9 823.2,462.7 822.6,457 822.3,451.7 822.6,447.7 822.5,443.8 824.1,440.7 823.2,436.4 821.3,431.6 820.5,431.1 826.6,432 829.2,427.7 832.9,425.9 836.1,424.2 836.9,419 836.1,414.7 839.5,410.4 838.7,403.5 842.1,400.9 843.8,395.7 846.4,390.6 849,387.1 850.6,382.4Z"/>
<path id="rMS" d="M946.3,376.5 950.9,373.2 957,372 961.8,372.3 965.6,373.2 971,373.2 974.4,374.4 978.3,375 981.6,373 985.6,371.3 986.9,367.5 990.2,363.1 994.8,363.1 997.7,366.3 1000.2,370.4 997,373.5 994.8,378.7 996.4,383 1000.2,386.9 996.6,393.3 991.1,395.1 989.3,399.7 982,400.6 977,402.5 972.8,403.4 971.9,407.9 976.5,413.4 979.2,417.1 985.6,416.2 990.2,420.7 990.8,424.5 992.9,428 995.6,430.7 996.6,434.5 997.5,441.8 1001.4,444.2 1003.9,446.3 1007.6,451.8 1012.1,455.5 1016.7,453.1 1022.2,451.8 1025.6,451.1 1029.5,448.2 1034.5,447 1038.7,446.3 1035,440.9 1038.7,436.3 1046,437.2 1046.9,440.5 1049.6,444.5 1051.5,450 1055.8,450.6 1060.6,453.7 1064.1,455.4 1068.8,455.5 1069.8,461 1074.9,462.6 1078.9,462.8 1081.9,464.7 1084.5,468.6 1088,470.1 1092.2,470.6 1095.4,472 1099.8,473.3 1104.5,475.6 1109.9,476.6 1113.7,479.3 1117.1,482 1121,482.9 1122.8,478.4 1128.3,480.2 1127.3,483.5 1128.3,488.4 1130.2,491.8 1131,495.7 1126.6,498.2 1124.6,501.2 1125.7,505.4 1126.5,510.4 1128.4,514.9 1130.1,519.5 1130,523.8 1132,528.7 1134.4,533.1 1137.4,536 1142.1,538.8 1146.6,540 1149.9,541.9 1153.9,543.7 1157.4,544.2 1161.2,545.5 1161.1,548.6 1163.1,553.1 1163,556.5 1162.8,560.5 1161.2,565.6 1164.8,568.7 1166.7,572.9 1167.6,580.2 1163,585.7 1157.9,588.2 1153.9,589.4 1149.2,590.8 1146.6,593 1143.4,592.5 1139,591.4 1135.6,589.4 1130.2,588.5 1124.6,588.5 1117.3,589.4 1113.7,594.9 1111.5,598 1108.2,600.4 1104.2,603.1 1100.9,605.9 1097.4,608.6 1095.4,611.3 1089,615 1084.4,610.4 1082.3,606.6 1080.7,603.1 1078.4,599.1 1076.2,594.9 1071.6,589.4 1067.4,588.9 1064.3,586.6 1060.1,585 1055.1,583 1051.4,580 1047.8,578.4 1044.6,577.3 1040.5,575.7 1035.6,576.2 1029.5,576.6 1026.2,578.3 1022.2,578.4 1016.7,574.8 1011.2,571.1 1008.5,570.2 1006.1,566.1 1005.7,562 999.3,565.6 1000.2,560.1 998.3,557.4 996.6,552.8 994.2,550.1 992.9,545.5 990.7,541.9 987.4,540 986,535.2 983.8,532.3 978.3,530.5 977.4,527.2 974.6,523.2 976.3,519.6 976.5,515.9 975.4,513 974.6,508.5 969.1,507.6 964.4,507.5 960,508.5 956.9,505.4 954.5,503 952.6,500.5 949,497.6 948.4,494.1 946.3,490.2 944.6,486.3 944.5,482.9 943.5,475.6 939.9,477.4 939.9,481.6 938,484.8 934.4,488.4 930.4,491.4 927.1,493.9 923.4,490.2 924.5,486.6 927.1,482.9 923.4,477.4 916.1,478.4 912.2,480.8 908.8,482 904.4,483.1 900.5,484.8 899.6,481.1 898,476.5 896,473.8 890.5,470.1 890.9,467 892.3,462.8 896,457.3 898.1,453.4 899.6,450 894.1,446.3 895,442.9 896,439 899.6,433.5 905.1,429.9 906.7,425.6 907,422.6 910.6,417.1 909.7,409.8 910,406.1 912.4,402.4 917.9,398.8 921.3,396.2 923.4,393.3 926.7,390.7 930.7,389.6 936.2,386 939.4,384.1 943.5,384.1 945.3,380.4 946.3,376.5Z"/>
<path id="rZL" d="M1089,615 1088,620.5 1084,622.9 1081.6,625.3 1077.1,627.8 1074.3,629.8 1069.8,630 1066.1,631.5 1061.8,632.5 1059.4,634 1055.1,634.2 1051.9,635.8 1047.8,638.8 1046.1,642.9 1042.3,646.1 1041.4,653.4 1040.9,657.1 1038.7,660.7 1038.3,665.6 1036.8,669.9 1035,673 1033.2,677.2 1031.1,681.6 1029.5,686.3 1025.9,691.8 1022.8,695.3 1020.6,696.8 1016.7,699.1 1012.2,701.4 1007.6,701.9 1002.3,702.6 998.4,704.6 997,708.1 994.8,712 993.8,716.3 991.1,719.3 986.7,721.8 982,724.8 978.3,725.7 974,726.4 971,728.4 967.2,732 963.7,733.9 959.4,736.7 954.5,737.6 950.9,738.6 946.3,739.4 944.9,736.6 943.5,732.1 940,729.6 938,726.6 933.5,723.8 930.7,721.1 928,717.6 926.3,715.2 923.4,712 919.7,712.5 915.6,711.3 912.4,710.1 908.4,706.5 905.1,702.8 902.6,699.1 897.8,695.5 895.1,693.6 891.3,691.3 888.7,688.2 884.7,686.5 881.3,684.5 880.3,679.7 877.7,675.4 874.8,673.1 870.4,671.7 867.4,672.8 863,673.5 865.3,669.9 866.7,664.4 870.8,662.4 873.1,659.3 875.9,657.1 878.4,653.4 879.5,649.8 876.3,646.6 872.2,642.4 870.5,638.4 870.4,635.1 872.1,630.3 874.9,626.9 877.7,626 881.6,623.4 885.7,623.1 888.7,620.5 891.4,618.4 896,615.8 899.6,615 902.7,613.5 907,611.3 907,604 909.7,598.5 915.2,594.9 916.1,601.3 919.8,602.7 925.2,603.1 928,605.6 930.7,609.5 932.3,606.8 936.2,604 938.7,600.1 941.7,598.5 946.5,597.1 950.9,595.8 958.2,594.9 960.3,590.6 961.8,587.6 964.9,586.3 969.1,585.7 974.6,587.6 978.8,585.7 982,584.8 985.6,583.9 989.3,578.4 992.6,575.1 994.8,572.9 1000.2,573.8 1004.8,572.8 1008.5,570.2 1011.2,571.1 1016.7,574.8 1022.2,578.4 1026.2,578.3 1029.5,576.6 1035.6,576.2 1040.5,575.7 1044.6,577.3 1047.8,578.4 1051.4,580 1055.1,583 1060.1,585 1064.3,586.6 1067.4,588.9 1071.6,589.4 1076.2,594.9 1078.4,599.1 1080.7,603.1 1082.3,606.6 1084.4,610.4 1089,615Z"/>
<path id="rPR" d="M411.3,353.6 414.3,351.1 417.4,350.9 419.7,350.6 423.2,349.6 425.6,347.7 427.6,348.7 428.1,351.6 431.3,352.1 434.5,353.1 434.5,348.2 436.5,344.7 440.9,346.7 444.3,345.6 447.3,344.2 452.2,344.2 454.2,341.3 458.2,340.8 460.6,341.8 465.1,340.8 465.1,344.2 468,344.7 469.5,348.2 472.2,348.1 474.9,348.7 473.4,351.1 474.4,354.6 476.6,355.3 479.8,355.6 483.8,358 483.3,362 485.8,363.1 488.7,364.9 491.2,367.9 489.7,371.8 486.2,371.9 483.8,372.3 482,373.2 478.9,373.8 478.9,378.2 481.8,377.2 482.8,379.7 480.3,381.2 482.3,385.1 479.8,388.1 476.9,387.6 476.4,390.5 474.1,389.8 471.5,388.6 470,385.6 467,383.6 463.1,385.1 459.1,383.2 457.7,386.6 454.8,387 450.8,387.6 451.3,389.6 449.3,390.1 446.3,390.5 445.8,392.5 443.4,391.5 439.4,393.5 436.5,391 435.4,393.7 435.3,396.7 434.5,398.4 432.3,397.6 430.1,396 427.2,395.3 425.1,395.5 422.7,393 424.1,391.5 427.1,391 426.6,388.1 424.1,388.6 425.7,386.8 427.1,384.6 423.2,384.1 419.7,380.7 421.2,378.2 423.7,377.7 423.7,375.8 419.7,374.3 416.8,370.3 417.2,366.9 413.8,365.4 415.3,362 418.5,361.8 421.2,362 419.7,359.5 417.2,357 416.8,354.1 414.5,354.2Z"/>
<path id="bthick" d="M127.7,363.5 123.2,359.3 120.1,356.8 116.8,352.9 120.4,347.4 118.6,342 115.3,339.4 110.4,336.5 107.8,332.9 104.9,329.1 101,326.6 98.5,322.7 95.7,322.3 93,315.9 86.6,312.2 84.8,306.7 81.4,304.7 79.3,301.2 78.4,293.9 79.1,290.4 82,286.6 80.2,280.2 78.5,275.7 77.4,272 74.3,269.6 72,265.5 66.5,261 68.3,256.4 73.8,255.5 75.6,250 71,244.5 72.9,242.7 79,244 83.8,244.5 87.5,248.2 86.6,255.5 91.2,261 95.7,265.5 94.8,272 99.4,277.4 98.5,282.9 104,287.5 104.7,283.7 106.1,280.4 105.8,275.6 108.7,271.7 110.4,266.5 113.5,262.6 118.6,259.1 119.2,254.9 120.4,251.8 124.4,249.3 128.7,248.2 135.1,244.5 136.9,239 141.5,235.4 146.8,235.3 152.4,234.5 155.4,233.8 159.8,232.6 164.1,232.5 168.9,234.5 173.5,239.9 176,236.6 178,232.6 181.7,231 185,230.2 189,229 192.7,233.5 194.5,227.1 198,231 201.8,233.5 205.2,235.7 208,239 209.9,241.2 213.4,243.6 M213.4,243.6 217.8,242.1 222,238.1 224.9,234.9 227.4,232.6 228.4,225.3 232,219.8 238.4,222.6 242.3,220.9 246.6,220.7 251.2,224.4 257.6,223.5 259,219.4 262.4,217 264,213.4 265.9,207 271.3,203.4 274.8,206.2 279.6,207.9 283.2,204.9 286,201.5 291.5,199.7 292.6,196.2 293.3,192.4 297,197 297.3,201.5 298.8,204.3 302.7,205.2 306.1,206.1 308.6,201.8 312.9,199 315.2,196 318.2,194 320.7,190.5 319.5,186.6 318.9,183.2 324.4,180.5 329.9,179.9 335.4,181.4 338.2,179.6 342.7,178.7 347.2,179.8 350,182.3 353.1,181 357.9,180.8 361,180.5 364.9,180.8 368.9,183.2 372,184.1 376.5,181.6 379.3,178.7 380.1,174.5 382,170.4 388.4,167.7 393.5,165.3 397.6,164 400,164.3 404.7,169 411.8,167.4 415.7,164.3 420.6,163.8 425.9,161.1 430,159.5 435.3,159.2 440.8,155.7 441.6,152.1 447,151 451,154.1 454.8,152.7 458.8,152.5 461.1,151.4 466.6,152.1 467.4,147 469.8,144.7 468.2,142.3 462.7,140.4 456.4,136.8 454.9,133.7 458.8,130.6 454.1,130.2 448.6,126.7 450.2,121.2 453.3,118.4 454.1,114.5 458.8,110.6 461.9,111.8 464.3,114.9 468.2,114.5 471.3,116.9 472.1,120 475.3,122 481.5,118.8 485.5,120.4 488.2,122 488.6,117.6 491.3,117.2 490.9,122.3 494.1,124.7 495.6,128.2 499.6,127.8 502.7,132.1 504.3,136.1 502.7,141.6 499.6,145.5 496,149.8 497.2,152.5 504.3,151 510.5,149.8 510.5,156.4 507.8,159.6 505.9,163.6 504,168.4 M504,168.4 509.8,171.3 513.7,174.5 516.8,175.3 519.2,179.2 522.3,178.4 527,181.5 530.9,180.7 533.3,174.5 537.2,169.4 541.1,170.6 544.3,169 548.2,171.3 551.3,170.2 555.3,171.1 558.4,174.1 565.4,173.3 565.4,167.4 567,162.7 566.2,159.6 569.3,154.9 570.1,150.2 571.7,146.3 567,145.1 564.2,142.3 567,138.4 571.7,137.2 574.8,134.9 580,136.8 585.4,139.3 590.2,141.4 594.5,143.9 596.3,139.3 599.1,145.7 603.6,146.2 607.3,144.8 611,150.3 614.6,154 615.5,158.5 611,163.1 611.4,168.3 611.9,173.2 613,176.4 615.5,180.5 618.7,183.3 622,184.1 622.7,188.5 624.7,191.5 624.1,196.8 622.9,202.4 627.4,204.3 629.7,200.8 632.9,198.8 636.4,199.4 640.2,202.4 643.2,203.8 646,206.2 649.4,209.2 M649.4,209.2 652.8,208.8 656.7,209.9 660.4,211.6 666,213.8 669.5,217.1 675,221.6 679.9,221.9 686,221.6 689.7,219.8 694.2,218.9 695.2,221.9 696,226.2 697.5,230.9 699.7,233.5 700.2,237.2 700.6,240.9 704.1,239.5 708.7,239.3 713.4,239 719.8,241.8 720.8,245.7 723.5,250 724.4,256.4 718.9,260.1 724.4,263.7 729.9,259.1 732.6,252.7 739,249.1 744.5,250.9 748.5,253.4 750,256.4 757.3,257.3 758.6,254.2 760.1,250 763.3,250.6 768.8,251.4 772,251.8 775.6,254.5 779.3,255.5 781.5,258.4 783.8,262.2 784.8,265.5 787.4,269.3 789.7,271.7 792.1,275.6 787.4,277.2 784.8,279.3 784.5,284.4 785.7,288.4 780.9,289.8 777.4,292.1 772.9,293.6 768.3,293.9 766.5,299.4 762.7,300.5 757.3,301.2 754.4,303.8 750,304.9 749.5,309 748.2,312.2 750.2,315.6 753.7,317.7 756,323.4 759.1,326.8 762.2,328.9 766.2,328.5 770.1,330.5 772.8,334.5 774.7,340 778.3,342.5 781.1,343.8 783.2,348.7 786.6,352.9 789.3,357.4 792.9,360.5 794.7,364.7 799,368.1 800.7,374.2 799.3,378.4 799.8,381.9 801.6,388 801.6,391.7 M801.6,391.7 805,394 808.5,399.2 814.5,402.6 820.5,405.2 824,403.5 826.6,399.2 830,395.7 835.2,393.6 838.7,388.8 840.4,383.7 843.8,381.9 848.1,379.4 850.6,382.4 M850.6,382.4 853.3,381.1 855,377.6 859.4,375.9 862.8,376.8 867.1,375.9 868,372.5 870.6,371.6 872.3,375.9 873.6,379.4 877.5,377.6 878.3,375.9 875.7,372.5 874.9,369 878.3,365.6 877.5,360.4 874.9,356.9 870.6,354.3 867.1,353.5 865.4,349.2 865.4,344 863.7,338.8 863.7,334.5 860.2,331.9 855.9,327.6 858.5,322.4 860.2,319 864.5,318.1 868.8,321.6 871.5,324.1 874.9,325.9 879.2,325.4 883.5,328.5 887.8,331.1 893,332.8 896.5,333.2 899,336.2 903.4,338.8 908.5,338 911.5,339.7 912,344.9 914.6,349.2 918,353.5 923.4,356.7 928.2,357.7 932.6,357.6 934.4,362.2 934.1,366.1 932.6,371.3 938,370.4 940.9,372.1 945.4,372.3 946.3,376.5 M946.3,376.5 950.9,373.2 957,372 961.8,372.3 965.6,373.2 971,373.2 974.4,374.4 978.3,375 981.6,373 985.6,371.3 986.9,367.5 990.2,363.1 994.8,363.1 997.7,366.3 1000.2,370.4 997,373.5 994.8,378.7 996.4,383 1000.2,386.9 996.6,393.3 991.1,395.1 989.3,399.7 982,400.6 977,402.5 972.8,403.4 971.9,407.9 976.5,413.4 979.2,417.1 985.6,416.2 990.2,420.7 990.8,424.5 992.9,428 995.6,430.7 996.6,434.5 997.5,441.8 1001.4,444.2 1003.9,446.3 1007.6,451.8 1012.1,455.5 1016.7,453.1 1022.2,451.8 1025.6,451.1 1029.5,448.2 1034.5,447 1038.7,446.3 1035,440.9 1038.7,436.3 1046,437.2 1046.9,440.5 1049.6,444.5 1051.5,450 1055.8,450.6 1060.6,453.7 1064.1,455.4 1068.8,455.5 1069.8,461 1074.9,462.6 1078.9,462.8 1081.9,464.7 1084.5,468.6 1088,470.1 1092.2,470.6 1095.4,472 1099.8,473.3 1104.5,475.6 1109.9,476.6 1113.7,479.3 1117.1,482 1121,482.9 1122.8,478.4 1128.3,480.2 1127.3,483.5 1128.3,488.4 1130.2,491.8 1131,495.7 1126.6,498.2 1124.6,501.2 1125.7,505.4 1126.5,510.4 1128.4,514.9 1130.1,519.5 1130,523.8 1132,528.7 1134.4,533.1 1137.4,536 1142.1,538.8 1146.6,540 1149.9,541.9 1153.9,543.7 1157.4,544.2 1161.2,545.5 1161.1,548.6 1163.1,553.1 1163,556.5 1162.8,560.5 1161.2,565.6 1164.8,568.7 1166.7,572.9 1167.6,580.2 1163,585.7 1157.9,588.2 1153.9,589.4 1149.2,590.8 1146.6,593 1143.4,592.5 1139,591.4 1135.6,589.4 1130.2,588.5 1124.6,588.5 1117.3,589.4 1113.7,594.9 1111.5,598 1108.2,600.4 1104.2,603.1 1100.9,605.9 1097.4,608.6 1095.4,611.3 1089,615 M1089,615 1088,620.5 1084,622.9 1081.6,625.3 1077.1,627.8 1074.3,629.8 1069.8,630 1066.1,631.5 1061.8,632.5 1059.4,634 1055.1,634.2 1051.9,635.8 1047.8,638.8 1046.1,642.9 1042.3,646.1 1041.4,653.4 1040.9,657.1 1038.7,660.7 1038.3,665.6 1036.8,669.9 1035,673 1033.2,677.2 1031.1,681.6 1029.5,686.3 1025.9,691.8 1022.8,695.3 1020.6,696.8 1016.7,699.1 1012.2,701.4 1007.6,701.9 1002.3,702.6 998.4,704.6 997,708.1 994.8,712 993.8,716.3 991.1,719.3 986.7,721.8 982,724.8 978.3,725.7 974,726.4 971,728.4 967.2,732 963.7,733.9 959.4,736.7 954.5,737.6 950.9,738.6 946.3,739.4 M946.3,739.4 942.1,742.3 938,743 935.6,746.4 931.8,746.8 928.9,750.4 925,750.4 921.3,749.1 917.9,748.5 914,747 908.8,746.7 903.6,747.1 897.8,746.7 897.5,746.8 893.2,742.5 891.2,738.1 887.4,734.9 883.6,733.2 879.2,732.7 876.6,730.5 871.7,727.7 867.5,731.8 862.6,735.3 858.6,736.5 855,738.8 854.3,743 851.5,747.2 850.1,750 846.1,751.5 842.4,754.1 839,759.7 836.2,763.9 832.7,768.1 832.7,771.6 827.8,775.7 826.4,779.2 826.8,783.4 824.3,789 820.8,790.4 817.4,788.6 818.7,785.5 818,780.6 819.1,775.7 817.4,774.4 818.7,770.2 817.4,764.6 813.2,762.5 811.1,764.6 805.5,763.6 799.2,764.9 794.4,762.5 791.6,759.7 790.2,756.9 785.3,754.8 780.4,756.9 778.7,753.4 780.4,750.7 779.7,745.8 776.9,742.3 773.4,741.3 771.4,742.6 766.5,741.6 761.6,737.8 758.1,732.9 753.9,736 748.4,734.6 744.9,732.2 742.1,734.6 740,740.2 738.6,743.3 735.4,746.7 732.6,749.1 728,751.3 723.8,749.1 720.7,746.7 714.8,745.3 709.8,744.9 705.7,743.6 700.6,743 697.1,742.3 693.3,741.2 689.6,741.2 684.8,741.7 680.5,741.2 677.8,737.9 673.2,735.7 670.7,732.7 665.9,730.2 662.1,727.2 658.5,722.9 656.7,717.4 652.8,713.8 649.4,712 646.9,708.7 644.1,705.5 640.2,702.8 635,703.4 631.1,702.8 627,704.5 623.8,706.5 618.6,704 614.6,702.8 611.4,699.7 609.1,697.3 605.3,693.9 601.8,691.8 597.3,689.2 593.6,686.7 M593.6,686.7 589.8,684.7 585.4,682.7 582,679.3 579.9,675.4 575.2,674.1 572.6,671.7 569.1,670.5 565.2,667.1 560.7,666.9 557.9,665.3 554.2,664 549.7,661.6 548.8,666.2 546,667.7 541.2,667 537.8,668 532.7,669.6 528.7,671.7 528.7,664.4 526.8,660.9 526.8,657.1 522.6,655.8 519.5,654.3 515.5,652.1 512.2,651.6 507.7,650.9 504.9,648.8 501.2,651.6 498.8,656.6 498.5,660.7 499.8,665.7 499.4,671.7 499.2,674.9 496,679.3 495.7,682.7 494.4,687.7 493.9,691.8 492.8,696 492.1,701 491.9,704.9 489.2,708.9 488.4,713.8 484.7,712.4 481.1,710.1 476.5,709.4 472,706.5 467.1,707.5 462.8,707.4 462.2,711.3 461,715.6 457.5,717.6 455.5,721.1 450.6,726.6 448,731 447,735.7 446.2,740.6 443.3,744.9 441.4,749 439.6,752.2 432.3,753.1 428.7,746.7 425.5,744 423.2,741.2 419,741.9 414,743 410.4,740.7 404.9,739.4 403.9,735.9 401.2,732.1 396.6,733.9 396.4,737.5 393.9,741.2 389.3,742.9 386.6,744.9 384.6,748.4 381.1,750.4 374.7,753.1 370.1,748.5 365.1,746.5 361,744.9 357.1,744.3 353.1,742.6 350,741.2 345.5,740.3 343,739.4 339,737.6 334.7,734.5 329.9,732.1 326.3,727.8 324.4,722.9 327.7,718.3 331.7,715.6 327.9,712.2 324.4,710.1 321.1,706.4 317.1,702.8 313.4,699.4 309.8,695.5 308.1,691 304.3,686.3 300.8,683.2 295.1,680.9 293.9,677.7 294.8,673.4 293.3,669.9 290,665.9 287.8,662.6 285.9,658.2 285.1,653.4 279.7,651.4 275,649.8 273.5,645.6 271.3,642.4 269.3,639.1 267.7,635.1 264,631.5 262.2,627.8 255.8,626 M127.7,363.5 123,365.1 119.5,367.6 116.7,371.3 114,374.9 112.2,377.8 110.4,382.2 109,385.3 108.5,389.5 105.6,392 101.4,392.5 97.6,395 98.5,400.5 102.8,405.1 106.7,407.8 109.4,412.2 112.2,417 113.1,424.3 112.2,431.6 115.2,435.5 117.7,438.9 117.6,443.7 118.6,448 120.3,452.1 123.2,457.2 125.6,461.1 126.8,466.3 125.4,470.5 125,475.5 125.2,479.3 125.9,484.6 129.5,486.1 132.7,490 136,492 138.2,496.5 141.5,501.1 142.4,504.7 143.3,508.4 147.3,510 152.4,512.1 155.4,513.7 159.8,513.9 164.6,517 168.9,517.6 173.1,519.4 176.2,523 178.8,527.7 181.7,530.4 183.5,534.6 185.4,539.5 188.1,544.5 189,548.7 192,551.6 194.5,554.7 196.3,558.3 197,561.9 199.3,566 201.8,569.3 203,573.6 205.5,576.6 209.1,579.4 211,582.1 213.9,582.8 218.3,583.9 221.8,585.9 223.8,589.4 226.4,592.7 229.3,596.7 232.5,599.7 234.8,604 234.6,609.2 233.8,613.2 237.3,617.6 238.4,622.3 240.2,625.1 243.9,627.8 248.5,632.4 250.3,626.9 255.8,626 M127.7,363.5 131.3,362.3 136,363 140.2,362.2 145.1,362.1 147.9,367.6 150.6,361.2 154.9,361.3 159.8,360.2 163.8,359.4 168.9,358.4 172.8,359.3 178,361.2 181.2,361.8 185.4,363.9 190.9,366.6 196.3,363 198.2,359.5 199.1,355.7 202.9,353.7 207.3,352.9 210.7,352.7 214.6,350.2 218.6,348.6 222,345.6 223.2,342.8 224.4,345.2 228.6,345.9 231.7,346.5 236.6,351.3 239.6,354.4 243.9,356.2 245.1,350.1 246.3,345.9 245.7,342.8 249.7,342 253.7,341.6 257.9,338.5 254.9,336.1 256.7,331.8 258.5,331.2 M258.5,331.2 262.8,331.8 263.4,335.5 267.7,332.4 269.5,336.7 270.7,338.5 277.2,338 M277.2,338 276.8,335.5 281.1,333.7 286,333.7 288.4,328.8 292.1,327 292.8,324.1 292.7,319.6 297.6,317.8 302.4,314.1 306.7,316.6 313.4,314.8 315.9,311.7 321.3,308.7 325,305.6 325.6,308.7 332.9,309.9 336.2,307.2 338.5,303.5 342.7,301.2 347.2,302.9 351.8,304 353.7,308.5 357.6,305.5 361.9,305.1 364.6,303 368.3,301.1 373.3,299.5 377.4,299.4 377.7,295.3 379.3,290.2 383.5,288 386.6,286.6 389.7,288.3 394.8,288.5 397.6,290.2 402.8,291 406.7,290.5 412.2,292.1 415.6,293.7 420.5,293.8 423.2,295.7 429.2,295 434.1,293.9 439.6,295.6 443.3,298.5 443.4,292.7 445.1,288.4 446.3,284.1 447.9,279.3 453.6,277.3 457.9,275.6 459.3,272.2 462,268.7 464.3,264.6 465.3,260.9 468.3,257 M468.3,257 473.8,255.5 477.3,255.4 482,257.3 482.5,262 484.8,265.5 489.1,264.5 492.1,263.7 497.3,264.6 501.2,265.5 504.5,263 506.7,258.7 510.4,255.5 514,250 518,250.7 521.4,251.9 525,253.7 527.6,249.9 530.5,248.2 534.9,246.1 539.6,244.5 541.5,239 547,240.9 552.4,241.8 557.9,244.1 561.6,248.2 564.6,252.5 567.1,255.5 571.6,261 574.4,264.6 576.2,267.4 M576.2,267.4 573,271.2 570.7,273.8 573.4,279.1 576.2,282.9 574.7,286 574.8,290.9 574.4,293.9 570.6,296.6 567.1,301.2 569.6,305.4 570.7,310.4 575.4,312.1 579.9,315.9 582.7,320.4 583.5,325 588.2,327 592.6,326.8 596.3,328.7 600.4,328.2 605.5,326.8 606.3,331.7 608.2,334.6 607.2,340.1 605.5,343.8 607.5,347.8 609.1,352 605.7,355 604.6,358.4 603,362.4 600,365.7 603.9,367.5 608.2,369.4 611.2,371.5 613.7,374.9 611.9,379.5 M611.9,379.5 605.5,382.2 606.4,389.5 602.2,390.8 598.2,393.2 601.8,398.7 606.5,401.3 611,404.1 612.9,407.4 614.6,411.5 618.7,414.2 622,418.8 620.2,422.6 620.1,427.9 615.5,433.4 615.5,437.4 614.7,440.5 615.5,444.8 M615.5,444.8 618.9,448.5 622,453.5 626.6,455.1 631.1,457.2 636,459.2 640.2,459 642.8,462.7 647.6,466.3 653,468.3 656.7,471.8 658.8,475.1 662.2,477.3 666,479.8 671.3,482.8 673.2,488.3 677.5,492.8 680.5,496.5 686,494.7 689.6,488.3 694.2,484.6 697.4,488.3 700.6,490.1 702.3,493.3 706.1,495.6 709.8,497.3 713.4,501.1 718.3,503.1 722.6,504.8 727,508.5 731.7,510.2 734.4,514.4 737.2,517.6 741,520.3 744.5,523 749.1,525.2 751.8,528.5 755.4,531.1 757.3,533.7 M757.3,533.7 760.8,532.5 764.6,530.4 768.7,529.2 773.8,529.5 781.1,530.4 782.4,526.5 782.9,523 786.9,522.6 792.1,524 799.4,523 803.1,525 806.7,526.7 811,528.6 815.9,531.3 819.2,532.8 824.1,534.4 M850.6,382.4 849,387.1 846.4,390.6 843.8,395.7 842.1,400.9 838.7,403.5 839.5,410.4 836.1,414.7 836.9,419 836.1,424.2 832.9,425.9 829.2,427.7 826.6,432 820.5,431.1 821.3,431.6 823.2,436.4 824.1,440.7 822.5,443.8 822.6,447.7 822.3,451.7 822.6,457 823.2,462.7 823.1,466.9 821.3,471.8 824,476.8 825,481 825.8,485.1 826.8,490.1 825.4,495.9 825.9,500.2 832.3,502.9 831.6,506 831.3,509.8 829.6,513.9 828.7,517.9 826.8,523 826.5,526.6 824.7,531.2 824.1,534.4 M615.5,444.8 611,446.2 605.5,448 600,451.7 598.2,457.2 590.9,458.1 585.4,462.7 581.4,462.3 576.2,462.7 571.7,463.7 567.1,466.3 563.4,471.8 557.9,475.5 556.9,478.9 556.1,482.8 559.8,488.3 565.2,492 564.3,497.4 557.9,498.4 554.3,500.9 550.6,504.8 545.1,501.1 540.9,501.2 536,500.2 530.9,502 526.8,502 523.5,500.6 519.5,499.3 514,502.9 512.1,507.4 510.4,510.2 508.5,513.9 M313.4,493.8 317.3,492.2 320.1,492.2 324.4,492 329.8,493.2 333.5,495.6 337.2,497.9 340.9,498.4 344.9,496.7 350,495.6 353.3,492.1 357.3,489.2 364.6,488.3 366.5,494.7 371.1,494.8 375.6,496.5 380.6,495.6 384.3,496.9 388.4,495.6 393.9,492 401.2,492.9 405.8,495.6 408.5,498.4 414,502.9 418.2,500.8 423.2,499.3 428,500 432.3,502.9 436.9,503.8 441.5,504.8 446.3,506 450.6,508.4 454,509.4 457.1,511.8 459.8,514.8 461,515.7 463.4,511.9 468.3,508.4 471.4,506.4 475.6,504.8 476.7,500.2 477.4,495.6 481.6,493.1 484.8,490.1 489.6,493.6 493.9,495.6 497.6,501.1 503,504.8 505.8,509 508.5,513.9 M277.2,338 279.6,342.6 277.4,344.4 274.4,347.7 272.6,350.3 275.2,351.8 278.1,353.3 281.1,350 284.8,350.3 287.7,352.9 292.2,351.8 295.1,355.1 290,355.5 292.2,358.8 295.9,360.3 298.8,364.4 303.3,366.2 308.5,366.2 311.4,364.8 315.1,366.2 316.2,370.7 320.3,373.6 320.3,376.6 324.7,375.9 328.4,377.3 326.2,382.9 332.9,384 336.6,387.7 341,389.2 338.4,389.9 338.4,394.3 339.1,398.8 339.1,404 334.3,404 332.9,409.1 331,412.1 332.5,415.8 329.2,420.2 329.9,426.1 326.2,429.8 330.6,430.6 331.4,433.5 324.7,435.8 321.8,440.9 318.1,436.5 311.4,438.3 307,442.4 305.5,445.4 309.2,447.6 312.9,450 308.7,453.4 306.1,456.3 309.5,459.7 311.6,462.7 312.6,467.6 314.3,471.8 314.1,476.2 313.4,481 315.1,483.8 315.2,488.3 313.4,493.8 M508.5,513.9 506.9,517.2 504.9,521.2 505.2,526.2 506.7,530.4 504.1,534 503,539.5 501.7,543.7 499.7,547.2 499.4,550.5 499.6,555.1 497.6,560 497.6,565.6 500.7,568.4 503,572.9 505,576.9 508.5,579.3 512.7,581.1 517.7,581.2 520.2,583.9 524.4,585.3 526.8,587.6 525,592.1 527.7,594.2 532.3,594.9 536,600.4 540.8,599.6 545.1,598.5 549,600.6 552.4,604 555.7,603.6 559.8,604.9 567.1,605.9 568.6,609.6 568.9,613.2 567.1,618.7 569.3,621.3 572.6,624.1 575.9,625.9 578,629.6 582,630.8 587.2,631.5 594.5,632.4 600,630.5 602,633.1 603.7,637 605,641 607.3,644.3 601.8,647.9 600.2,650.9 596.3,653.4 592.7,658.9 589.6,661.9 586.3,664.4 590.9,668 594.5,673.5 600,677.6 M600,677.6 598.2,682.7 593.6,686.7 M824.1,534.4 821.3,539.5 816.7,539.6 814,541.3 813.3,544.3 812.2,548.7 815.5,550.5 819.5,550.5 825,554.1 819.1,558.3 822.8,563.8 821,567.4 821,571.1 819.5,574.1 818.6,577.8 818.2,582.1 822.9,582.9 826.5,583.9 829.5,581.1 832,576.6 830.5,572.3 830.1,567.4 833.6,565.7 837.4,563.8 840.9,563.8 844.8,565.6 848.4,571.1 850.1,575.5 852.1,578.4 854,581.9 853.9,585.7 856.6,589.2 861.2,593 859.7,595.9 859.4,600.4 863.9,603.4 868.5,605.9 870.8,609.5 874,613.2 875.2,616.9 875.9,620.5 874.9,626.9 M946.3,376.5 945.3,380.4 943.5,384.1 939.4,384.1 936.2,386 930.7,389.6 926.7,390.7 923.4,393.3 921.3,396.2 917.9,398.8 912.4,402.4 910,406.1 909.7,409.8 910.6,417.1 907,422.6 906.7,425.6 905.1,429.9 899.6,433.5 896,439 895,442.9 894.1,446.3 899.6,450 898.1,453.4 896,457.3 892.3,462.8 890.9,467 890.5,470.1 896,473.8 898,476.5 899.6,481.1 900.5,484.8 904.4,483.1 908.8,482 912.2,480.8 916.1,478.4 923.4,477.4 927.1,482.9 924.5,486.6 923.4,490.2 927.1,493.9 930.4,491.4 934.4,488.4 938,484.8 939.9,481.6 939.9,477.4 943.5,475.6 944.5,482.9 944.6,486.3 946.3,490.2 948.4,494.1 949,497.6 952.6,500.5 954.5,503 956.9,505.4 960,508.5 964.4,507.5 969.1,507.6 974.6,508.5 975.4,513 976.5,515.9 976.3,519.6 974.6,523.2 977.4,527.2 978.3,530.5 983.8,532.3 986,535.2 987.4,540 990.7,541.9 992.9,545.5 994.2,550.1 996.6,552.8 998.3,557.4 1000.2,560.1 999.3,565.6 1005.7,562 1006.1,566.1 1008.5,570.2 M1089,615 1084.4,610.4 1082.3,606.6 1080.7,603.1 1078.4,599.1 1076.2,594.9 1071.6,589.4 1067.4,588.9 1064.3,586.6 1060.1,585 1055.1,583 1051.4,580 1047.8,578.4 1044.6,577.3 1040.5,575.7 1035.6,576.2 1029.5,576.6 1026.2,578.3 1022.2,578.4 1016.7,574.8 1011.2,571.1 1008.5,570.2 M874.9,626.9 872.1,630.3 870.4,635.1 870.5,638.4 872.2,642.4 876.3,646.6 879.5,649.8 878.4,653.4 875.9,657.1 873.1,659.3 870.8,662.4 866.7,664.4 865.3,669.9 863,673.5 867.4,672.8 870.4,671.7 874.8,673.1 877.7,675.4 880.3,679.7 881.3,684.5 884.7,686.5 888.7,688.2 891.3,691.3 895.1,693.6 897.8,695.5 902.6,699.1 905.1,702.8 908.4,706.5 912.4,710.1 915.6,711.3 919.7,712.5 923.4,712 926.3,715.2 928,717.6 930.7,721.1 933.5,723.8 938,726.6 940,729.6 943.5,732.1 944.9,736.6 946.3,739.4 M411.3,353.6 414.3,351.1 417.4,350.9 419.7,350.6 423.2,349.6 425.6,347.7 427.6,348.7 428.1,351.6 431.3,352.1 434.5,353.1 434.5,348.2 436.5,344.7 440.9,346.7 444.3,345.6 447.3,344.2 452.2,344.2 454.2,341.3 458.2,340.8 460.6,341.8 465.1,340.8 465.1,344.2 468,344.7 469.5,348.2 472.2,348.1 474.9,348.7 473.4,351.1 474.4,354.6 476.6,355.3 479.8,355.6 483.8,358 483.3,362 485.8,363.1 488.7,364.9 491.2,367.9 489.7,371.8 486.2,371.9 483.8,372.3 482,373.2 478.9,373.8 478.9,378.2 481.8,377.2 482.8,379.7 480.3,381.2 482.3,385.1 479.8,388.1 476.9,387.6 476.4,390.5 474.1,389.8 471.5,388.6 470,385.6 467,383.6 463.1,385.1 459.1,383.2 457.7,386.6 454.8,387 450.8,387.6 451.3,389.6 449.3,390.1 446.3,390.5 445.8,392.5 443.4,391.5 439.4,393.5 436.5,391 435.4,393.7 435.3,396.7 434.5,398.4 432.3,397.6 430.1,396 427.2,395.3 425.1,395.5 422.7,393 424.1,391.5 427.1,391 426.6,388.1 424.1,388.6 425.7,386.8 427.1,384.6 423.2,384.1 419.7,380.7 421.2,378.2 423.7,377.7 423.7,375.8 419.7,374.3 416.8,370.3 417.2,366.9 413.8,365.4 415.3,362 418.5,361.8 421.2,362 419.7,359.5 417.2,357 416.8,354.1 414.5,354.2Z" fill="none" stroke="#454545" stroke-width="1.9" stroke-linejoin="round"/>
<path id="bthin" d="M213.4,243.6 216.4,246.3 220.1,248.2 224.4,248.9 228,250.4 231.1,251.8 232.9,256.8 236.6,261 241,262.4 243.9,263.7 248.4,264.6 254,264.6 255.9,267.5 256.7,272 254.4,276.8 254,281.1 253,280 251.8,284.9 254.3,286.1 253,292.2 251.8,293.4 254.9,297.1 253.7,301.3 256.1,304.4 257.9,310.5 259.1,314.8 255.5,316 257.3,319 252.4,318.7 248.8,321.5 251.2,323.3 255.5,323.6 257.9,328.2 258.5,331.2 M504,168.4 501.1,170.6 498,172.5 493.7,173.3 492.5,177.2 491.7,181.5 487.8,182.7 484.7,180.7 480.7,177.2 476.8,176 473.7,176.4 473.3,181.5 472.1,185.5 469,187 466.6,192.5 467.4,195.3 462.7,197.2 458,201.1 456.4,205.8 452.5,209.8 451,213.7 453.3,216.8 454.1,220 455.5,226.2 458.2,231 459.1,235.4 460.1,239.8 462.8,242.7 465.4,247.2 467.4,251.8 468.3,257 M576.2,267.4 580.8,269.2 585.4,271 591.8,273.8 596.3,270.1 601.8,268.3 604.8,270.2 609.1,272.9 615.5,275.6 617.4,281.1 623.8,280.2 624.5,277 625.6,272.9 629.2,269.9 632.9,269.2 636.8,269.9 640.2,272 643.7,274.7 647.6,276.5 652.6,275.5 657.6,275.2 653.7,271.3 650.3,268.3 652.1,262.8 650.8,258.2 651.2,253.7 651.2,250.3 653,246.5 653,242.7 652.5,238.6 652.7,235.3 651.2,231.7 652.4,227.5 653.2,222.9 654,218.9 651.6,214 649.4,209.2 M611.9,379.5 616.6,378.9 620.1,376.7 623.8,375.8 627.4,373 630.8,371.4 634.8,370.3 640.2,374 643.9,375.6 647.6,374.9 652.1,375.9 656.7,377.6 663.1,374.9 665.9,368.5 671.3,368.5 674.1,371.7 676.8,376.7 682.3,378.5 687.8,374 694.2,372.1 700.6,375.8 706.1,378.5 708,383 707.9,386.8 712.4,387.9 715.2,389.5 718,395 724.4,398.7 727.3,400.7 729.9,404.1 732.3,406.9 735.4,410.5 740.6,409.7 744.5,409.6 751.8,409.6 758.2,412.4 760.6,408 761,404.1 765.3,400.2 768.3,396.8 773.4,395.4 777.4,392.3 780.5,392 784.8,390.4 788.4,384 793.9,386.8 797.3,389.7 801.6,391.7 M313.4,493.8 311.2,497.5 310.7,502.9 311.6,507.9 313.4,512.1 312.3,517.5 309.8,521.2 309.9,526.2 311.6,530.4 308.2,535.1 306.1,539.5 304,543.7 300.6,546.8 298.8,551 296.7,555.1 295.1,558.3 293.4,563.2 293.3,567.4 291,572.5 289.6,576.6 285.5,578.2 282.3,580.2 278.2,582.3 272.3,583.9 271.7,588.5 269.5,593 269.9,598.2 268.6,602.2 265.2,605.9 262.2,609.5 260,613.3 258.5,616.8 257.4,620.6 255.8,626 M757.3,533.7 753.7,539.5 754.2,543.5 755.5,548.7 753,552.1 750,554.1 748.2,560 750,560.1 746.7,561.4 742.1,563.2 739,563.8 736.5,566.9 733.5,569.3 730.1,571.3 726.2,572.9 723.3,576.9 722.6,580.2 722.1,583.5 720.7,587.6 724.4,593 729.9,596.7 727.8,599.7 726.2,604 726.2,608.5 724.4,611.3 722.5,615.5 720.7,618.7 719.9,623 718.9,626 722.6,631.5 719.3,634.8 715.2,638.8 711.6,644.3 717.1,647.9 713.4,653.4 710.3,657.1 706.1,658.9 700.8,660.1 697,661.6 693.3,666.2 686,667.1 681,666.6 676.8,664.4 673.2,665.6 669.5,666.2 665.9,660.7 660.4,662.6 653,662.6 651.2,668 643.9,668 640.9,670.4 636.6,671.7 631.1,675.4 627.8,678.6 625.6,680.9 621.6,679.8 618.3,677.2 613.7,678.8 611,680.9 607.8,680.7 603.7,679 600,677.6 M1008.5,570.2 1004.8,572.8 1000.2,573.8 994.8,572.9 992.6,575.1 989.3,578.4 985.6,583.9 982,584.8 978.8,585.7 974.6,587.6 969.1,585.7 964.9,586.3 961.8,587.6 960.3,590.6 958.2,594.9 950.9,595.8 946.5,597.1 941.7,598.5 938.7,600.1 936.2,604 932.3,606.8 930.7,609.5 928,605.6 925.2,603.1 919.8,602.7 916.1,601.3 915.2,594.9 909.7,598.5 907,604 907,611.3 902.7,613.5 899.6,615 896,615.8 891.4,618.4 888.7,620.5 885.7,623.1 881.6,623.4 877.7,626 874.9,626.9" fill="none" stroke="#4f4f4f" stroke-width="1.15" stroke-linejoin="round"/>
<g id="common"><rect x="29.7" y="450.7" width="24.8" height="12" fill="#fff" stroke="#4a4a4a" stroke-width="1.5"/><rect x="29.5" y="470.5" width="25.2" height="12.4" fill="#fff" stroke="#8a8a8a" stroke-width="0.9"/><text x="62.5" y="461.6" font-size="12.2">NUTS 2</text><text x="62.5" y="480.8" font-size="12.2">Kraj</text><text x="29.7" y="531" font-size="13.45" font-weight="bold">Podíl dosažitelných</text><text x="29.7" y="546.3" font-size="13.45" font-weight="bold">uchazečů o zaměstnání</text><text x="29.7" y="561.7" font-size="13.45" font-weight="bold">ve věku 15-64 let</text><text x="29.7" y="577.2" font-size="13.45" font-weight="bold">k obyvatelstvu ve stejném</text><text x="29.7" y="592.5" font-size="13.45" font-weight="bold">věku</text><rect x="37.7" y="617.6" width="25.3" height="14.6" fill="#ffffff" stroke="#d9d9d9" stroke-width="0.7"/><text x="71.6" y="628.5" font-size="12.3">méně než 4,99</text><rect x="37.7" y="637.8" width="25.3" height="14.6" fill="#ebebeb" stroke="#d9d9d9" stroke-width="0.7"/><text x="71.6" y="648.5" font-size="12.3">5,0 - 5,99</text><rect x="37.7" y="658" width="25.3" height="14.6" fill="#d6d6d6" stroke="#d6d6d6" stroke-width="0.7"/><text x="71.6" y="668.6" font-size="12.3">6,0 - 6,99</text><rect x="37.7" y="678.2" width="25.3" height="14.6" fill="#c0c0c0" stroke="#c0c0c0" stroke-width="0.7"/><text x="71.6" y="688.6" font-size="12.3">7,0 - 7,99</text><rect x="37.7" y="698.4" width="25.3" height="14.6" fill="#ababab" stroke="#ababab" stroke-width="0.7"/><text x="71.6" y="708.7" font-size="12.3">8,0 - 8,99</text><rect x="37.7" y="718.6" width="25.3" height="14.6" fill="#969696" stroke="#969696" stroke-width="0.7"/><text x="71.6" y="728.8" font-size="12.3">9,0 - 9,99</text><rect x="37.7" y="738.8" width="25.3" height="14.6" fill="#808080" stroke="#808080" stroke-width="0.7"/><text x="71.6" y="748.8" font-size="12.3">10,0 a více</text><rect x="492.6" y="743.7" width="59.2" height="4" fill="#000"/><rect x="551.8" y="743.9" width="57.6" height="3.6" fill="#fff" stroke="#000" stroke-width="0.7"/><text x="492.9" y="734.5" font-size="7.6" font-weight="bold" text-anchor="middle">0</text><text x="550.8" y="734.5" font-size="7.6" font-weight="bold" text-anchor="middle">25</text><text x="609" y="734.5" font-size="7.6" font-weight="bold" text-anchor="middle">50</text><text x="618" y="747.4" font-size="7.6" font-weight="bold">km</text><rect x="29.4" y="764.6" width="40.5" height="25" fill="#1f4595"/><polygon points="46.8,775.4 48.2,779.7 52.7,779.7 49.1,782.3 50.4,786.6 46.8,784 43.2,786.6 44.5,782.3 40.9,779.7 45.4,779.7" fill="#ffed00"/><polygon points="52.9,769.6 53.8,772.2 56.5,772.2 54.3,773.8 55.1,776.5 52.9,774.9 50.7,776.5 51.5,773.8 49.3,772.2 52,772.2" fill="#ffed00"/><polygon points="60.5,766.7 61.1,768.5 63,768.5 61.4,769.6 62,771.4 60.5,770.3 59,771.4 59.6,769.6 58,768.5 59.9,768.5" fill="#ffed00"/><polygon points="66.4,766 66.7,767 67.7,767 66.9,767.6 67.2,768.5 66.4,767.9 65.6,768.5 65.9,767.6 65.1,767 66.1,767" fill="#ffed00"/><clipPath id="esfclip"><rect x="29.4" y="760" width="60" height="60"/></clipPath><g clip-path="url(#esfclip)"><g font-size="41.3" font-weight="bold" fill="#1f4595" stroke="#fff" stroke-width="1.3" paint-order="stroke"><text transform="translate(17.2,811) scale(1.233,1)">e</text><text transform="translate(42.8,811) scale(1.233,1)">s</text><text transform="translate(69.2,811) scale(1,1.04)">f</text></g></g><text x="87.9" y="793.1" font-size="7.6" font-weight="bold" fill="#2b4f9e">evropský</text><text x="87.9" y="801.7" font-size="7.9" fill="#5d83c4">sociální</text><text x="87.9" y="810.8" font-size="7.9" fill="#2b4f9e">fond v ČR</text><rect x="129.1" y="764.6" width="54.2" height="36.1" fill="#1f4595"/><polygon points="156.2,768.3 156.7,769.8 158.2,769.8 157,770.6 157.4,772.1 156.2,771.2 155,772.1 155.4,770.6 154.2,769.8 155.7,769.8" fill="#ffed00"/><polygon points="162.3,769.9 162.8,771.4 164.3,771.4 163.1,772.3 163.6,773.7 162.3,772.9 161.1,773.7 161.6,772.3 160.4,771.4 161.9,771.4" fill="#ffed00"/><polygon points="166.9,774.5 167.3,775.9 168.8,775.9 167.6,776.8 168.1,778.2 166.9,777.4 165.6,778.2 166.1,776.8 164.9,775.9 166.4,775.9" fill="#ffed00"/><polygon points="168.5,780.6 169,782.1 170.5,782.1 169.3,782.9 169.7,784.4 168.5,783.5 167.3,784.4 167.7,782.9 166.5,782.1 168,782.1" fill="#ffed00"/><polygon points="166.9,786.8 167.3,788.2 168.8,788.2 167.6,789.1 168.1,790.5 166.9,789.7 165.6,790.5 166.1,789.1 164.9,788.2 166.4,788.2" fill="#ffed00"/><polygon points="162.3,791.3 162.8,792.7 164.3,792.7 163.1,793.6 163.6,795.1 162.3,794.2 161.1,795.1 161.6,793.6 160.4,792.7 161.9,792.7" fill="#ffed00"/><polygon points="156.2,792.9 156.7,794.4 158.2,794.4 157,795.2 157.4,796.7 156.2,795.8 155,796.7 155.4,795.2 154.2,794.4 155.7,794.4" fill="#ffed00"/><polygon points="150,791.3 150.5,792.7 152,792.7 150.8,793.6 151.3,795.1 150,794.2 148.8,795.1 149.3,793.6 148.1,792.7 149.6,792.7" fill="#ffed00"/><polygon points="145.5,786.8 146,788.2 147.5,788.2 146.3,789.1 146.8,790.5 145.5,789.7 144.3,790.5 144.8,789.1 143.6,788.2 145.1,788.2" fill="#ffed00"/><polygon points="143.9,780.6 144.4,782.1 145.9,782.1 144.7,782.9 145.1,784.4 143.9,783.5 142.7,784.4 143.1,782.9 141.9,782.1 143.4,782.1" fill="#ffed00"/><polygon points="145.5,774.5 146,775.9 147.5,775.9 146.3,776.8 146.8,778.2 145.5,777.4 144.3,778.2 144.8,776.8 143.6,775.9 145.1,775.9" fill="#ffed00"/><polygon points="150,769.9 150.5,771.4 152,771.4 150.8,772.3 151.3,773.7 150,772.9 148.8,773.7 149.3,772.3 148.1,771.4 149.6,771.4" fill="#ffed00"/><text x="128.3" y="811" font-size="6.25" textLength="55.3" lengthAdjust="spacingAndGlyphs" fill="#2a55a5">EVROPSKÁ UNIE</text><rect x="203" y="766.4" width="41.7" height="43" rx="6" ry="6" fill="#fff" stroke="#1f4595" stroke-width="4"/><line x1="206" y1="787.9" x2="242" y2="787.9" stroke="#1f4595" stroke-width="0.5"/><text x="224.8" y="786.6" font-size="23.5" text-anchor="middle" textLength="32" lengthAdjust="spacingAndGlyphs" style="font-family:'Liberation Serif',serif" fill="#1f4595">MP</text><text x="225.8" y="804.4" font-size="23.5" text-anchor="middle" textLength="27.5" lengthAdjust="spacingAndGlyphs" style="font-family:'Liberation Serif',serif" fill="#1f4595">SV</text><rect x="264" y="764.5" width="22.1" height="22.1" rx="1.5" fill="#0f5ca8"/><circle cx="289.8" cy="775.6" r="4.3" fill="#0f5ca8"/><rect x="264" y="789.3" width="22.1" height="21.7" rx="1.5" fill="#d7141a"/><circle cx="275.2" cy="784.5" r="5.9" fill="#fff"/><circle cx="275.2" cy="784.5" r="4.5" fill="#d7141a"/><rect x="271.6" y="786" width="7.2" height="5" fill="#d7141a"/><circle cx="275.2" cy="802.8" r="5.3" fill="#fff"/><rect x="271.4" y="804" width="7.6" height="8" fill="#fff"/><text x="302.3" y="779.7" font-size="11.5" textLength="123.8" lengthAdjust="spacingAndGlyphs" fill="#1c5ba4">OPERAČNÍ PROGRAM</text><text x="302.3" y="795.4" font-size="11.5" textLength="89.5" lengthAdjust="spacingAndGlyphs" fill="#1c5ba4">LIDSKÉ ZDROJE</text><text x="302.3" y="810.7" font-size="11.5" textLength="109.3" lengthAdjust="spacingAndGlyphs" fill="#1c5ba4">A ZAMĚSTNANOST</text><text x="443.6" y="779.7" font-size="11" font-weight="bold" textLength="86.1" lengthAdjust="spacingAndGlyphs" fill="#d2232a">PODPORUJEME</text><text x="443.6" y="795.4" font-size="11" font-weight="bold" textLength="109" lengthAdjust="spacingAndGlyphs" fill="#d2232a">VAŠI BUDOUCNOST</text><text x="443.6" y="810.7" font-size="11" font-weight="bold" textLength="71.6" lengthAdjust="spacingAndGlyphs" fill="#1c5ba4">www.esfcr.cz</text><polygon points="1100.3,678.2 1108.4,685.9 1108.4,697.9 1124.3,697.9 1132.3,705.7 1124.3,713.7 1083.9,713.7 1076.1,705.7 1083.9,697.9 1092.1,697.9 1092.1,685.9" fill="#0b4ea2"/><polygon points="1100.3,689.7 1116.6,705.7 1108.4,713.8 1092.1,713.8 1084.2,705.7" fill="#fff"/><polygon points="1100.3,698.1 1108.3,706 1100.3,714 1092.3,706" fill="#e31e24"/><text x="1082.8" y="721.9" font-size="6.5" textLength="128" lengthAdjust="spacingAndGlyphs" fill="#1a1a1a">CENTRUM PRO REGIONÁLNÍ ROZVOJ</text><text x="1082.8" y="730.7" font-size="6.5" textLength="60.7" lengthAdjust="spacingAndGlyphs" fill="#1a1a1a">ČESKÉ REPUBLIKY</text><text x="1082.5" y="742.8" font-size="8.3" fill="#111">Pro MMR vyrobilo CRR ČR</text><text x="1082.5" y="752.4" font-size="8.3" fill="#111">Zdroj dat: MPSV, Analýza vývoje</text><text x="1082.5" y="762" font-size="8.3" fill="#111">zaměstnanosti a nezaměstnanosti,</text><text x="1082.5" y="771.5" font-size="8.3" fill="#111">Čerpání na nástroje APZ</text><text x="1082.5" y="781.1" font-size="8.3" fill="#111">v jednotlivých krajích (2012, 2013)</text><text x="1082.5" y="790.7" font-size="8.3" fill="#111">Zdroj geografických dat: © ČÚZK</text><text x="1082.5" y="800.3" font-size="8.3" fill="#111">© CRR ČR, březen 2015</text><text x="1082.5" y="809.9" font-size="8.3" fill="#111">www.crr.cz</text></g>
<g id="legA"><g fill="none" stroke="#505050" stroke-width="0.85"><ellipse cx="825.1" cy="241.1" rx="28.4" ry="21.2"/><path d="M853.5,241.1 v5.3 A28.4,21.2 0 0 1 796.7,246.4 v-5.3"/><line x1="825.1" y1="219.9" x2="825.1" y2="267.6"/><ellipse cx="897.3" cy="230" rx="39.9" ry="29.7"/><path d="M937.2,230 v7.9 A39.9,29.7 0 0 1 857.4,237.9 v-7.9"/><line x1="897.3" y1="200.3" x2="897.3" y2="267.6"/><ellipse cx="995.6" cy="216.4" rx="54.5" ry="41"/><path d="M1050.1,216.4 v10.6 A54.5,41 0 0 1 941.1,227 v-10.6"/><line x1="995.6" y1="175.4" x2="995.6" y2="268"/><ellipse cx="1132.9" cy="193.3" rx="78.9" ry="59"/><path d="M1211.8,193.3 v15.3 A78.9,59 0 0 1 1054,208.6 v-15.3"/><line x1="1132.9" y1="134.3" x2="1132.9" y2="267.6"/></g><text x="842.7" y="126.5" font-size="13.5"><tspan font-weight="bold">Veřejně prospěšné práce</tspan> (Počet podpořených osob)</text><text x="825.1" y="283.3" font-size="12" text-anchor="middle">250</text><text x="897.3" y="283.3" font-size="12" text-anchor="middle">500</text><text x="995.6" y="283.3" font-size="12" text-anchor="middle">1 000</text><text x="1132.9" y="283.3" font-size="12" text-anchor="middle">2 000</text><rect x="1098.4" y="343.1" width="26" height="14.6" fill="#bed2ff" stroke="#999" stroke-width="0.8"/><rect x="1098.4" y="363.4" width="26" height="14.9" fill="#73b2ff" stroke="#999" stroke-width="0.8"/><text x="1135.9" y="355.2" font-size="12.2">Ženy</text><text x="1135.9" y="375.5" font-size="12.2">Muži</text></g>
<g id="legB"><g fill="none" stroke="#505050" stroke-width="0.85"><ellipse cx="914.2" cy="227.3" rx="31" ry="22.8"/><path d="M945.2,227.3 v6.6 A31,22.8 0 0 1 883.2,233.9 v-6.6"/><line x1="914.2" y1="204.5" x2="914.2" y2="256.7"/><ellipse cx="1005" cy="204.9" rx="54.7" ry="41.1"/><path d="M1059.7,204.9 v10.7 A54.7,41.1 0 0 1 950.3,215.6 v-10.7"/><line x1="1005" y1="163.8" x2="1005" y2="256.7"/><ellipse cx="1138.4" cy="187.1" rx="73.1" ry="55.2"/><path d="M1211.5,187.1 v13.9 A73.1,55.2 0 0 1 1065.3,201 v-13.9"/><line x1="1138.4" y1="131.9" x2="1138.4" y2="256.2"/></g><text x="902.3" y="124" font-size="13.5"><tspan font-weight="bold">Výdaje na veřejně prospěšné práce</tspan><tspan x="1136.1">(v tis. Kč)</tspan></text><text x="914" y="276.5" font-size="12.2" text-anchor="middle">50 000</text><text x="1004.8" y="276.5" font-size="12.2" text-anchor="middle">100 000</text><text x="1137.8" y="276.5" font-size="12.2" text-anchor="middle">200 000</text><g stroke="#6a6662" stroke-width="0.95" stroke-linejoin="round"><path d="M1094.2,327.1 A16.9,13.1 0 0 1 1077.3,340.2 L1077.3,343 A16.9,13.1 0 0 0 1094.2,329.9 Z" fill="#727b9c" stroke="none"/><path d="M1077.3,340.2 A16.9,13.1 0 0 1 1060.4,327.1 L1060.4,329.9 A16.9,13.1 0 0 0 1077.3,343 Z" fill="#3a6093" stroke="none"/><path d="M1094.2,327.1 v2.8 A16.9,13.1 0 0 1 1060.4,329.9 v-2.8" fill="none"/><ellipse cx="1077.3" cy="327.1" rx="16.9" ry="13.1" fill="#73b2ff"/><path d="M1077.3,327.1 L1077.3,314 A16.9,13.1 0 0 1 1077.3,340.2 Z" fill="#bed2ff"/></g><text x="1105.2" y="333.3" font-size="13.5" font-weight="bold">Zdroj finacování</text><rect x="1064.4" y="354.6" width="25.6" height="13.6" fill="#bed2ff" stroke="#999" stroke-width="0.8"/><rect x="1064.4" y="374.9" width="25.6" height="14" fill="#73b2ff" stroke="#999" stroke-width="0.8"/><text x="1101.9" y="366.2" font-size="12.3">Státní rozpočet ČR</text><text x="1101.9" y="386.5" font-size="12.3">Strukturální fondy</text></g>
</defs>
<g transform="translate(0,0)"><rect x="15.2" y="50.2" width="1210.6" height="776" fill="#fff" stroke="#3a3a3a" stroke-width="1.3"/><text x="152.9" y="80.4" font-size="19.27" textLength="930.8" lengthAdjust="spacingAndGlyphs">POČET PODPOŘENÝCH OSOB Z PROJEKTU VZDĚLÁVEJTE SE PRO RŮST! PRACOVNÍ PŘÍLEŽITOSTI</text><text x="130.5" y="100.2" font-size="16.65" textLength="969.2" lengthAdjust="spacingAndGlyphs">Veřejně prospěšné práce - podíl dosažitelných uchazečů o zaměstnání ve věku 15-64 let k obyvatelstvu ve stejném věku (rok 2012)</text><use href="#rKV" fill="#ababab" stroke="#ababab" stroke-width="0.6"/><use href="#rUL" fill="#808080" stroke="#808080" stroke-width="0.6"/><use href="#rLB" fill="#c0c0c0" stroke="#c0c0c0" stroke-width="0.6"/><use href="#rHK" fill="#ebebeb" stroke="#ebebeb" stroke-width="0.6"/><use href="#rPA" fill="#d6d6d6" stroke="#d6d6d6" stroke-width="0.6"/><use href="#rSC" fill="#ebebeb" stroke="#ebebeb" stroke-width="0.6"/><use href="#rPL" fill="#ebebeb" stroke="#ebebeb" stroke-width="0.6"/><use href="#rJC" fill="#ebebeb" stroke="#ebebeb" stroke-width="0.6"/><use href="#rVY" fill="#d6d6d6" stroke="#d6d6d6" stroke-width="0.6"/><use href="#rJM" fill="#c0c0c0" stroke="#c0c0c0" stroke-width="0.6"/><use href="#rOL" fill="#ababab" stroke="#ababab" stroke-width="0.6"/><use href="#rMS" fill="#ababab" stroke="#ababab" stroke-width="0.6"/><use href="#rZL" fill="#d6d6d6" stroke="#d6d6d6" stroke-width="0.6"/><use href="#rPR" fill="#ffffff" stroke="#ffffff" stroke-width="0.6"/><use href="#bthin"/><use href="#bthick"/><g stroke="#6a6662" stroke-width="0.95" stroke-linejoin="round"><path d="M201.8,294.7 A29.7,24.6 0 0 1 191.6,313.2 L191.6,316.1 A29.7,24.6 0 0 0 201.8,297.6 Z" fill="#727b9c" stroke="none"/><path d="M191.6,313.2 A29.7,24.6 0 0 1 142.4,294.7 L142.4,297.6 A29.7,24.6 0 0 0 191.6,316.1 Z" fill="#3a6093" stroke="none"/><path d="M201.8,294.7 v2.9 A29.7,24.6 0 0 1 142.4,297.6 v-2.9" fill="none"/><ellipse cx="172.1" cy="294.7" rx="29.7" ry="24.6" fill="#73b2ff"/><path d="M172.1,294.7 L172.1,270.1 A29.7,24.6 0 0 1 191.6,313.2 Z" fill="#bed2ff"/></g><g stroke="#6a6662" stroke-width="0.95" stroke-linejoin="round"><path d="M399.8,234.6 A51.6,43.1 0 0 1 376,271 L376,274.5 A51.6,43.1 0 0 0 399.8,238.2 Z" fill="#727b9c" stroke="none"/><path d="M376,271 A51.6,43.1 0 0 1 296.6,234.6 L296.6,238.2 A51.6,43.1 0 0 0 376,274.5 Z" fill="#3a6093" stroke="none"/><path d="M399.8,234.6 v3.5 A51.6,43.1 0 0 1 296.6,238.2 v-3.5" fill="none"/><ellipse cx="348.2" cy="234.6" rx="51.6" ry="43.1" fill="#73b2ff"/><path d="M348.2,234.6 L348.2,191.5 A51.6,43.1 0 0 1 376,271 Z" fill="#bed2ff"/></g><g stroke="#6a6662" stroke-width="0.95" stroke-linejoin="round"><path d="M592.7,207.5 A36.6,30.3 0 0 1 586.6,224.1 L586.6,227.2 A36.6,30.3 0 0 0 592.7,210.5 Z" fill="#727b9c" stroke="none"/><path d="M586.6,224.1 A36.6,30.3 0 0 1 519.5,207.5 L519.5,210.5 A36.6,30.3 0 0 0 586.6,227.2 Z" fill="#3a6093" stroke="none"/><path d="M592.7,207.5 v3.1 A36.6,30.3 0 0 1 519.5,210.5 v-3.1" fill="none"/><ellipse cx="556.1" cy="207.5" rx="36.6" ry="30.3" fill="#73b2ff"/><path d="M556.1,207.5 L556.1,177.2 A36.6,30.3 0 0 1 586.6,224.1 Z" fill="#bed2ff"/></g><g stroke="#6a6662" stroke-width="0.95" stroke-linejoin="round"><path d="M715.2,305.2 A32,26.9 0 0 1 704.3,325.4 L704.3,328.3 A32,26.9 0 0 0 715.2,308.1 Z" fill="#727b9c" stroke="none"/><path d="M704.3,325.4 A32,26.9 0 0 1 651.2,305.2 L651.2,308.1 A32,26.9 0 0 0 704.3,328.3 Z" fill="#3a6093" stroke="none"/><path d="M715.2,305.2 v3 A32,26.9 0 0 1 651.2,308.1 v-3" fill="none"/><ellipse cx="683.2" cy="305.2" rx="32" ry="26.9" fill="#73b2ff"/><path d="M683.2,305.2 L683.2,278.3 A32,26.9 0 0 1 704.3,325.4 Z" fill="#bed2ff"/></g><g stroke="#6a6662" stroke-width="0.95" stroke-linejoin="round"><path d="M453.5,362.2 A10.5,8.9 0 0 1 432.5,362.2 L432.5,364.6 A10.5,8.9 0 0 0 453.5,364.6 Z" fill="#3a6093" stroke="none"/><path d="M453.5,362.2 v2.3 A10.5,8.9 0 0 1 432.5,364.6 v-2.3" fill="none"/><ellipse cx="443" cy="362.2" rx="10.5" ry="8.9" fill="#73b2ff"/><path d="M443,362.2 L443,353.3 A10.5,8.9 0 0 1 453.5,361.5 Z" fill="#bed2ff"/></g><g stroke="#6a6662" stroke-width="0.95" stroke-linejoin="round"><path d="M539.5,432.5 A42.5,35.7 0 0 1 520,462.5 L520,465.8 A42.5,35.7 0 0 0 539.5,435.8 Z" fill="#727b9c" stroke="none"/><path d="M520,462.5 A42.5,35.7 0 0 1 454.5,432.5 L454.5,435.8 A42.5,35.7 0 0 0 520,465.8 Z" fill="#3a6093" stroke="none"/><path d="M539.5,432.5 v3.3 A42.5,35.7 0 0 1 454.5,435.8 v-3.3" fill="none"/><ellipse cx="497" cy="432.5" rx="42.5" ry="35.7" fill="#73b2ff"/><path d="M497,432.5 L497,396.8 A42.5,35.7 0 0 1 520,462.5 Z" fill="#bed2ff"/></g><g stroke="#6a6662" stroke-width="0.95" stroke-linejoin="round"><path d="M252.8,446.8 A31.4,26.6 0 0 1 242.1,466.9 L242.1,469.8 A31.4,26.6 0 0 0 252.8,449.8 Z" fill="#727b9c" stroke="none"/><path d="M242.1,466.9 A31.4,26.6 0 0 1 190,446.8 L190,449.8 A31.4,26.6 0 0 0 242.1,469.8 Z" fill="#3a6093" stroke="none"/><path d="M252.8,446.8 v2.9 A31.4,26.6 0 0 1 190,449.8 v-2.9" fill="none"/><ellipse cx="221.4" cy="446.8" rx="31.4" ry="26.6" fill="#73b2ff"/><path d="M221.4,446.8 L221.4,420.2 A31.4,26.6 0 0 1 242.1,466.9 Z" fill="#bed2ff"/></g><g stroke="#6a6662" stroke-width="0.95" stroke-linejoin="round"><path d="M739.9,445.1 A18.3,15.4 0 0 1 739.8,446.9 L739.8,449.5 A18.3,15.4 0 0 0 739.9,447.6 Z" fill="#727b9c" stroke="none"/><path d="M739.8,446.9 A18.3,15.4 0 0 1 703.3,445.1 L703.3,447.6 A18.3,15.4 0 0 0 739.8,449.5 Z" fill="#3a6093" stroke="none"/><path d="M739.9,445.1 v2.5 A18.3,15.4 0 0 1 703.3,447.6 v-2.5" fill="none"/><ellipse cx="721.6" cy="445.1" rx="18.3" ry="15.4" fill="#73b2ff"/><path d="M721.6,445.1 L721.6,429.7 A18.3,15.4 0 0 1 739.8,446.9 Z" fill="#bed2ff"/></g><g stroke="#6a6662" stroke-width="0.95" stroke-linejoin="round"><path d="M662.5,561.8 A30.5,25.6 0 0 1 628.3,587.2 L628.3,590.1 A30.5,25.6 0 0 0 662.5,564.7 Z" fill="#727b9c" stroke="none"/><path d="M628.3,587.2 A30.5,25.6 0 0 1 601.5,561.8 L601.5,564.7 A30.5,25.6 0 0 0 628.3,590.1 Z" fill="#3a6093" stroke="none"/><path d="M662.5,561.8 v2.9 A30.5,25.6 0 0 1 601.5,564.7 v-2.9" fill="none"/><ellipse cx="632" cy="561.8" rx="30.5" ry="25.6" fill="#73b2ff"/><path d="M632,561.8 L632,536.2 A30.5,25.6 0 1 1 628.3,587.2 Z" fill="#bed2ff"/></g><g stroke="#6a6662" stroke-width="0.95" stroke-linejoin="round"><path d="M436.8,612.8 A40,33.8 0 0 1 417.9,641.4 L417.9,644.6 A40,33.8 0 0 0 436.8,616 Z" fill="#727b9c" stroke="none"/><path d="M417.9,641.4 A40,33.8 0 0 1 356.8,612.8 L356.8,616 A40,33.8 0 0 0 417.9,644.6 Z" fill="#3a6093" stroke="none"/><path d="M436.8,612.8 v3.2 A40,33.8 0 0 1 356.8,616 v-3.2" fill="none"/><ellipse cx="396.8" cy="612.8" rx="40" ry="33.8" fill="#73b2ff"/><path d="M396.8,612.8 L396.8,579 A40,33.8 0 0 1 417.9,641.4 Z" fill="#bed2ff"/></g><g stroke="#6a6662" stroke-width="0.95" stroke-linejoin="round"><path d="M924.3,519.7 A43,35.3 0 0 1 900,551.5 L900,554.8 A43,35.3 0 0 0 924.3,523 Z" fill="#727b9c" stroke="none"/><path d="M900,551.5 A43,35.3 0 0 1 838.3,519.7 L838.3,523 A43,35.3 0 0 0 900,554.8 Z" fill="#3a6093" stroke="none"/><path d="M924.3,519.7 v3.3 A43,35.3 0 0 1 838.3,523 v-3.3" fill="none"/><ellipse cx="881.3" cy="519.7" rx="43" ry="35.3" fill="#73b2ff"/><path d="M881.3,519.7 L881.3,484.4 A43,35.3 0 0 1 900,551.5 Z" fill="#bed2ff"/></g><g stroke="#6a6662" stroke-width="0.95" stroke-linejoin="round"><path d="M1100.7,502.8 A55.3,45.5 0 0 1 1086.3,533.4 L1086.3,537 A55.3,45.5 0 0 0 1100.7,506.4 Z" fill="#727b9c" stroke="none"/><path d="M1086.3,533.4 A55.3,45.5 0 0 1 990.1,502.8 L990.1,506.4 A55.3,45.5 0 0 0 1086.3,537 Z" fill="#3a6093" stroke="none"/><path d="M1100.7,502.8 v3.7 A55.3,45.5 0 0 1 990.1,506.4 v-3.7" fill="none"/><ellipse cx="1045.4" cy="502.8" rx="55.3" ry="45.5" fill="#73b2ff"/><path d="M1045.4,502.8 L1045.4,457.3 A55.3,45.5 0 0 1 1086.3,533.4 Z" fill="#bed2ff"/></g><g stroke="#6a6662" stroke-width="0.95" stroke-linejoin="round"><path d="M823.2,668.8 A34.6,29.1 0 0 1 820,681.1 L820,684.1 A34.6,29.1 0 0 0 823.2,671.9 Z" fill="#727b9c" stroke="none"/><path d="M820,681.1 A34.6,29.1 0 0 1 754,668.8 L754,671.9 A34.6,29.1 0 0 0 820,684.1 Z" fill="#3a6093" stroke="none"/><path d="M823.2,668.8 v3 A34.6,29.1 0 0 1 754,671.9 v-3" fill="none"/><ellipse cx="788.6" cy="668.8" rx="34.6" ry="29.1" fill="#73b2ff"/><path d="M788.6,668.8 L788.6,639.7 A34.6,29.1 0 0 1 820,681.1 Z" fill="#bed2ff"/></g><g stroke="#6a6662" stroke-width="0.95" stroke-linejoin="round"><path d="M1016.3,644.4 A44.8,37.6 0 0 1 992.8,677.5 L992.8,680.9 A44.8,37.6 0 0 0 1016.3,647.8 Z" fill="#727b9c" stroke="none"/><path d="M992.8,677.5 A44.8,37.6 0 0 1 926.7,644.4 L926.7,647.8 A44.8,37.6 0 0 0 992.8,680.9 Z" fill="#3a6093" stroke="none"/><path d="M1016.3,644.4 v3.3 A44.8,37.6 0 0 1 926.7,647.8 v-3.3" fill="none"/><ellipse cx="971.5" cy="644.4" rx="44.8" ry="37.6" fill="#73b2ff"/><path d="M971.5,644.4 L971.5,606.8 A44.8,37.6 0 0 1 992.8,677.5 Z" fill="#bed2ff"/></g><use href="#legA"/><use href="#common"/><text x="29.7" y="608" font-size="13.45">(rok 2012, v %)</text></g>
<g transform="translate(1240,0)"><rect x="15.2" y="50.2" width="1210.6" height="776" fill="#fff" stroke="#3a3a3a" stroke-width="1.3"/><text x="82" y="81.8" font-size="19.3" textLength="1075.6" lengthAdjust="spacingAndGlyphs">VÝDAJE NA VEŘEJNĚ PROSPĚŠNÉ PRÁCE A PODÍLY NEZAMĚSTNANÝCH OBYVATEL V JEDNOTLIVÝCH KRAJÍCH ČR</text><text x="616.8" y="101.3" font-size="16.67" text-anchor="middle">rok 2012</text><use href="#rKV" fill="#ababab" stroke="#ababab" stroke-width="0.6"/><use href="#rUL" fill="#808080" stroke="#808080" stroke-width="0.6"/><use href="#rLB" fill="#c0c0c0" stroke="#c0c0c0" stroke-width="0.6"/><use href="#rHK" fill="#ebebeb" stroke="#ebebeb" stroke-width="0.6"/><use href="#rPA" fill="#d6d6d6" stroke="#d6d6d6" stroke-width="0.6"/><use href="#rSC" fill="#ebebeb" stroke="#ebebeb" stroke-width="0.6"/><use href="#rPL" fill="#ebebeb" stroke="#ebebeb" stroke-width="0.6"/><use href="#rJC" fill="#ebebeb" stroke="#ebebeb" stroke-width="0.6"/><use href="#rVY" fill="#d6d6d6" stroke="#d6d6d6" stroke-width="0.6"/><use href="#rJM" fill="#c0c0c0" stroke="#c0c0c0" stroke-width="0.6"/><use href="#rOL" fill="#ababab" stroke="#ababab" stroke-width="0.6"/><use href="#rMS" fill="#ababab" stroke="#ababab" stroke-width="0.6"/><use href="#rZL" fill="#d6d6d6" stroke="#d6d6d6" stroke-width="0.6"/><use href="#rPR" fill="#ffffff" stroke="#ffffff" stroke-width="0.6"/><use href="#bthin"/><use href="#bthick"/><g stroke="#6a6662" stroke-width="0.95" stroke-linejoin="round"><path d="M197.1,295.4 A22.5,18 0 0 1 152.1,295.4 L152.1,298 A22.5,18 0 0 0 197.1,298 Z" fill="#3a6093" stroke="none"/><path d="M197.1,295.4 v2.7 A22.5,18 0 0 1 152.1,298 v-2.7" fill="none"/><ellipse cx="174.6" cy="295.4" rx="22.5" ry="18" fill="#73b2ff"/><path d="M174.6,295.4 L174.6,277.4 A22.5,18 0 0 1 193.5,285.6 Z" fill="#bed2ff"/></g><g stroke="#6a6662" stroke-width="0.95" stroke-linejoin="round"><path d="M403.8,230.8 A54.7,44.4 0 0 1 316.9,266.6 L316.9,270.3 A54.7,44.4 0 0 0 403.8,234.4 Z" fill="#727b9c" stroke="none"/><path d="M316.9,266.6 A54.7,44.4 0 0 1 294.4,230.8 L294.4,234.4 A54.7,44.4 0 0 0 316.9,270.3 Z" fill="#3a6093" stroke="none"/><path d="M403.8,230.8 v3.6 A54.7,44.4 0 0 1 294.4,234.4 v-3.6" fill="none"/><ellipse cx="349.1" cy="230.8" rx="54.7" ry="44.4" fill="#73b2ff"/><path d="M349.1,230.8 L349.1,186.4 A54.7,44.4 0 1 1 316.9,266.6 Z" fill="#bed2ff"/></g><g stroke="#6a6662" stroke-width="0.95" stroke-linejoin="round"><path d="M592.8,206.8 A36.5,29.8 0 0 1 576.6,231.5 L576.6,234.6 A36.5,29.8 0 0 0 592.8,209.8 Z" fill="#727b9c" stroke="none"/><path d="M576.6,231.5 A36.5,29.8 0 0 1 519.8,206.8 L519.8,209.8 A36.5,29.8 0 0 0 576.6,234.6 Z" fill="#3a6093" stroke="none"/><path d="M592.8,206.8 v3.1 A36.5,29.8 0 0 1 519.8,209.8 v-3.1" fill="none"/><ellipse cx="556.3" cy="206.8" rx="36.5" ry="29.8" fill="#73b2ff"/><path d="M556.3,206.8 L556.3,177 A36.5,29.8 0 0 1 576.6,231.5 Z" fill="#bed2ff"/></g><g stroke="#6a6662" stroke-width="0.95" stroke-linejoin="round"><path d="M714.6,311.2 A31.5,25.3 0 0 1 695.7,334.3 L695.7,337.3 A31.5,25.3 0 0 0 714.6,314.1 Z" fill="#727b9c" stroke="none"/><path d="M695.7,334.3 A31.5,25.3 0 0 1 651.6,311.2 L651.6,314.1 A31.5,25.3 0 0 0 695.7,337.3 Z" fill="#3a6093" stroke="none"/><path d="M714.6,311.2 v2.9 A31.5,25.3 0 0 1 651.6,314.1 v-2.9" fill="none"/><ellipse cx="683.1" cy="311.2" rx="31.5" ry="25.3" fill="#73b2ff"/><path d="M683.1,311.2 L683.1,285.9 A31.5,25.3 0 0 1 695.7,334.3 Z" fill="#bed2ff"/></g><g stroke="#6a6662" stroke-width="0.95" stroke-linejoin="round"><path d="M451.6,362.2 A8.8,7 0 0 1 434,362.2 L434,364.4 A8.8,7 0 0 0 451.6,364.4 Z" fill="#3a6093" stroke="none"/><path d="M451.6,362.2 v2.3 A8.8,7 0 0 1 434,364.4 v-2.3" fill="none"/><ellipse cx="442.8" cy="362.2" rx="8.8" ry="7" fill="#73b2ff"/><path d="M442.8,362.2 L442.8,355.2 A8.8,7 0 0 1 443.6,355.2 Z" fill="#bed2ff"/></g><g stroke="#6a6662" stroke-width="0.95" stroke-linejoin="round"><path d="M536.9,432.8 A41.3,33.6 0 0 1 486.3,465.6 L486.3,468.8 A41.3,33.6 0 0 0 536.9,436.1 Z" fill="#727b9c" stroke="none"/><path d="M486.3,465.6 A41.3,33.6 0 0 1 454.3,432.8 L454.3,436.1 A41.3,33.6 0 0 0 486.3,468.8 Z" fill="#3a6093" stroke="none"/><path d="M536.9,432.8 v3.2 A41.3,33.6 0 0 1 454.3,436.1 v-3.2" fill="none"/><ellipse cx="495.6" cy="432.8" rx="41.3" ry="33.6" fill="#73b2ff"/><path d="M495.6,432.8 L495.6,399.2 A41.3,33.6 0 1 1 486.3,465.6 Z" fill="#bed2ff"/></g><g stroke="#6a6662" stroke-width="0.95" stroke-linejoin="round"><path d="M252.6,450.6 A28.4,23.6 0 0 1 240.5,469.9 L240.5,472.7 A28.4,23.6 0 0 0 252.6,453.4 Z" fill="#727b9c" stroke="none"/><path d="M240.5,469.9 A28.4,23.6 0 0 1 195.8,450.6 L195.8,453.4 A28.4,23.6 0 0 0 240.5,472.7 Z" fill="#3a6093" stroke="none"/><path d="M252.6,450.6 v2.9 A28.4,23.6 0 0 1 195.8,453.4 v-2.9" fill="none"/><ellipse cx="224.2" cy="450.6" rx="28.4" ry="23.6" fill="#73b2ff"/><path d="M224.2,450.6 L224.2,427 A28.4,23.6 0 0 1 240.5,469.9 Z" fill="#bed2ff"/></g><g stroke="#6a6662" stroke-width="0.95" stroke-linejoin="round"><path d="M753.7,445.2 A34.2,28.1 0 0 1 719.2,473.3 L719.2,476.3 A34.2,28.1 0 0 0 753.7,448.2 Z" fill="#727b9c" stroke="none"/><path d="M719.2,473.3 A34.2,28.1 0 0 1 685.3,445.2 L685.3,448.2 A34.2,28.1 0 0 0 719.2,476.3 Z" fill="#3a6093" stroke="none"/><path d="M753.7,445.2 v3 A34.2,28.1 0 0 1 685.3,448.2 v-3" fill="none"/><ellipse cx="719.5" cy="445.2" rx="34.2" ry="28.1" fill="#73b2ff"/><path d="M719.5,445.2 L719.5,417.1 A34.2,28.1 0 1 1 719.2,473.3 Z" fill="#bed2ff"/></g><g stroke="#6a6662" stroke-width="0.95" stroke-linejoin="round"><path d="M662.4,559.4 A34.8,27.9 0 0 1 608.7,582.9 L608.7,585.9 A34.8,27.9 0 0 0 662.4,562.5 Z" fill="#727b9c" stroke="none"/><path d="M608.7,582.9 A34.8,27.9 0 0 1 592.8,559.4 L592.8,562.5 A34.8,27.9 0 0 0 608.7,585.9 Z" fill="#3a6093" stroke="none"/><path d="M662.4,559.4 v3 A34.8,27.9 0 0 1 592.8,562.5 v-3" fill="none"/><ellipse cx="627.6" cy="559.4" rx="34.8" ry="27.9" fill="#73b2ff"/><path d="M627.6,559.4 L627.6,531.5 A34.8,27.9 0 1 1 608.7,582.9 Z" fill="#bed2ff"/></g><g stroke="#6a6662" stroke-width="0.95" stroke-linejoin="round"><path d="M424.8,611.2 A30.4,24.9 0 0 1 423.8,617.5 L423.8,620.4 A30.4,24.9 0 0 0 424.8,614.1 Z" fill="#727b9c" stroke="none"/><path d="M423.8,617.5 A30.4,24.9 0 0 1 364,611.2 L364,614.1 A30.4,24.9 0 0 0 423.8,620.4 Z" fill="#3a6093" stroke="none"/><path d="M424.8,611.2 v2.9 A30.4,24.9 0 0 1 364,614.1 v-2.9" fill="none"/><ellipse cx="394.4" cy="611.2" rx="30.4" ry="24.9" fill="#73b2ff"/><path d="M394.4,611.2 L394.4,586.3 A30.4,24.9 0 0 1 423.8,617.5 Z" fill="#bed2ff"/></g><g stroke="#6a6662" stroke-width="0.95" stroke-linejoin="round"><path d="M920.3,514.7 A37.8,30.9 0 0 1 919.3,521.6 L919.3,524.8 A37.8,30.9 0 0 0 920.3,517.8 Z" fill="#727b9c" stroke="none"/><path d="M919.3,521.6 A37.8,30.9 0 0 1 844.7,514.7 L844.7,517.8 A37.8,30.9 0 0 0 919.3,524.8 Z" fill="#3a6093" stroke="none"/><path d="M920.3,514.7 v3.1 A37.8,30.9 0 0 1 844.7,517.8 v-3.1" fill="none"/><ellipse cx="882.5" cy="514.7" rx="37.8" ry="30.9" fill="#73b2ff"/><path d="M882.5,514.7 L882.5,483.8 A37.8,30.9 0 0 1 919.3,521.6 Z" fill="#bed2ff"/></g><g stroke="#6a6662" stroke-width="0.95" stroke-linejoin="round"><path d="M1091.3,498.7 A41.5,33.2 0 0 1 1008.3,498.7 L1008.3,502 A41.5,33.2 0 0 0 1091.3,502 Z" fill="#3a6093" stroke="none"/><path d="M1091.3,498.7 v3.2 A41.5,33.2 0 0 1 1008.3,502 v-3.2" fill="none"/><ellipse cx="1049.8" cy="498.7" rx="41.5" ry="33.2" fill="#73b2ff"/><path d="M1049.8,498.7 L1049.8,465.5 A41.5,33.2 0 0 1 1076.4,473.2 Z" fill="#bed2ff"/></g><g stroke="#6a6662" stroke-width="0.95" stroke-linejoin="round"><path d="M824.7,668.4 A36.2,29.1 0 0 1 752.3,668.4 L752.3,671.5 A36.2,29.1 0 0 0 824.7,671.5 Z" fill="#3a6093" stroke="none"/><path d="M824.7,668.4 v3.1 A36.2,29.1 0 0 1 752.3,671.5 v-3.1" fill="none"/><ellipse cx="788.5" cy="668.4" rx="36.2" ry="29.1" fill="#73b2ff"/><path d="M788.5,668.4 L788.5,639.3 A36.2,29.1 0 0 1 823.8,661.9 Z" fill="#bed2ff"/></g><g stroke="#6a6662" stroke-width="0.95" stroke-linejoin="round"><path d="M1006.7,646.8 A32.7,27.8 0 0 1 941.3,646.8 L941.3,649.8 A32.7,27.8 0 0 0 1006.7,649.8 Z" fill="#3a6093" stroke="none"/><path d="M1006.7,646.8 v3 A32.7,27.8 0 0 1 941.3,649.8 v-3" fill="none"/><ellipse cx="974" cy="646.8" rx="32.7" ry="27.8" fill="#73b2ff"/><path d="M974,646.8 L974,619 A32.7,27.8 0 0 1 1006.5,643.4 Z" fill="#bed2ff"/></g><use href="#legB"/><use href="#common"/><text x="29.7" y="608" font-size="13.45">(rok 2012, v %)</text></g>
<g transform="translate(0,876.5)"><rect x="15.2" y="50.2" width="1210.6" height="776" fill="#fff" stroke="#3a3a3a" stroke-width="1.3"/><text x="154.1" y="81.7" font-size="19.27" textLength="930.8" lengthAdjust="spacingAndGlyphs">POČET PODPOŘENÝCH OSOB Z PROJEKTU VZDĚLÁVEJTE SE PRO RŮST! PRACOVNÍ PŘÍLEŽITOSTI</text><text x="131.7" y="101.1" font-size="16.65" textLength="969.2" lengthAdjust="spacingAndGlyphs">Veřejně prospěšné práce - podíl dosažitelných uchazečů o zaměstnání ve věku 15-64 let k obyvatelstvu ve stejném věku (rok 2013)</text><use href="#rKV" fill="#ababab" stroke="#ababab" stroke-width="0.6"/><use href="#rUL" fill="#808080" stroke="#808080" stroke-width="0.6"/><use href="#rLB" fill="#ababab" stroke="#ababab" stroke-width="0.6"/><use href="#rHK" fill="#d6d6d6" stroke="#d6d6d6" stroke-width="0.6"/><use href="#rPA" fill="#c0c0c0" stroke="#c0c0c0" stroke-width="0.6"/><use href="#rSC" fill="#d6d6d6" stroke="#d6d6d6" stroke-width="0.6"/><use href="#rPL" fill="#d6d6d6" stroke="#d6d6d6" stroke-width="0.6"/><use href="#rJC" fill="#d6d6d6" stroke="#d6d6d6" stroke-width="0.6"/><use href="#rVY" fill="#c0c0c0" stroke="#c0c0c0" stroke-width="0.6"/><use href="#rJM" fill="#ababab" stroke="#ababab" stroke-width="0.6"/><use href="#rOL" fill="#969696" stroke="#969696" stroke-width="0.6"/><use href="#rMS" fill="#969696" stroke="#969696" stroke-width="0.6"/><use href="#rZL" fill="#c0c0c0" stroke="#c0c0c0" stroke-width="0.6"/><use href="#rPR" fill="#ffffff" stroke="#ffffff" stroke-width="0.6"/><use href="#bthin"/><use href="#bthick"/><g stroke="#6a6662" stroke-width="0.95" stroke-linejoin="round"><path d="M210.1,295.4 A38.2,31.5 0 0 1 205.8,310 L205.8,313.1 A38.2,31.5 0 0 0 210.1,298.5 Z" fill="#727b9c" stroke="none"/><path d="M205.8,310 A38.2,31.5 0 0 1 133.7,295.4 L133.7,298.5 A38.2,31.5 0 0 0 205.8,313.1 Z" fill="#3a6093" stroke="none"/><path d="M210.1,295.4 v3.1 A38.2,31.5 0 0 1 133.7,298.5 v-3.1" fill="none"/><ellipse cx="171.9" cy="295.4" rx="38.2" ry="31.5" fill="#73b2ff"/><path d="M171.9,295.4 L171.9,263.9 A38.2,31.5 0 0 1 205.8,310 Z" fill="#bed2ff"/></g><g stroke="#6a6662" stroke-width="0.95" stroke-linejoin="round"><path d="M425.9,234.3 A77.5,64.4 0 0 1 387,290.1 L387,294.4 A77.5,64.4 0 0 0 425.9,238.6 Z" fill="#727b9c" stroke="none"/><path d="M387,290.1 A77.5,64.4 0 0 1 270.9,234.3 L270.9,238.6 A77.5,64.4 0 0 0 387,294.4 Z" fill="#3a6093" stroke="none"/><path d="M425.9,234.3 v4.3 A77.5,64.4 0 0 1 270.9,238.6 v-4.3" fill="none"/><ellipse cx="348.4" cy="234.3" rx="77.5" ry="64.4" fill="#73b2ff"/><path d="M348.4,234.3 L348.4,169.9 A77.5,64.4 0 0 1 387,290.1 Z" fill="#bed2ff"/></g><g stroke="#6a6662" stroke-width="0.95" stroke-linejoin="round"><path d="M607.6,207.4 A51.3,42.9 0 0 1 588,241.2 L588,244.7 A51.3,42.9 0 0 0 607.6,211 Z" fill="#727b9c" stroke="none"/><path d="M588,241.2 A51.3,42.9 0 0 1 505,207.4 L505,211 A51.3,42.9 0 0 0 588,244.7 Z" fill="#3a6093" stroke="none"/><path d="M607.6,207.4 v3.5 A51.3,42.9 0 0 1 505,211 v-3.5" fill="none"/><ellipse cx="556.3" cy="207.4" rx="51.3" ry="42.9" fill="#73b2ff"/><path d="M556.3,207.4 L556.3,164.5 A51.3,42.9 0 0 1 588,241.2 Z" fill="#bed2ff"/></g><g stroke="#6a6662" stroke-width="0.95" stroke-linejoin="round"><path d="M734.8,305.7 A51.7,42.8 0 0 1 724.7,331.1 L724.7,334.7 A51.7,42.8 0 0 0 734.8,309.2 Z" fill="#727b9c" stroke="none"/><path d="M724.7,331.1 A51.7,42.8 0 0 1 631.4,305.7 L631.4,309.2 A51.7,42.8 0 0 0 724.7,334.7 Z" fill="#3a6093" stroke="none"/><path d="M734.8,305.7 v3.6 A51.7,42.8 0 0 1 631.4,309.2 v-3.6" fill="none"/><ellipse cx="683.1" cy="305.7" rx="51.7" ry="42.8" fill="#73b2ff"/><path d="M683.1,305.7 L683.1,262.9 A51.7,42.8 0 0 1 724.7,331.1 Z" fill="#bed2ff"/></g><g stroke="#6a6662" stroke-width="0.95" stroke-linejoin="round"><path d="M466.7,362.3 A23.4,19.6 0 0 1 466.2,366.2 L466.2,368.9 A23.4,19.6 0 0 0 466.7,365 Z" fill="#727b9c" stroke="none"/><path d="M466.2,366.2 A23.4,19.6 0 0 1 419.9,362.3 L419.9,365 A23.4,19.6 0 0 0 466.2,368.9 Z" fill="#3a6093" stroke="none"/><path d="M466.7,362.3 v2.7 A23.4,19.6 0 0 1 419.9,365 v-2.7" fill="none"/><ellipse cx="443.3" cy="362.3" rx="23.4" ry="19.6" fill="#73b2ff"/><path d="M443.3,362.3 L443.3,342.7 A23.4,19.6 0 0 1 466.2,366.2 Z" fill="#bed2ff"/></g><g stroke="#6a6662" stroke-width="0.95" stroke-linejoin="round"><path d="M569.3,432.1 A72.2,60.2 0 0 1 534.9,483.3 L534.9,487.5 A72.2,60.2 0 0 0 569.3,436.2 Z" fill="#727b9c" stroke="none"/><path d="M534.9,483.3 A72.2,60.2 0 0 1 424.9,432.1 L424.9,436.2 A72.2,60.2 0 0 0 534.9,487.5 Z" fill="#3a6093" stroke="none"/><path d="M569.3,432.1 v4.2 A72.2,60.2 0 0 1 424.9,436.2 v-4.2" fill="none"/><ellipse cx="497.1" cy="432.1" rx="72.2" ry="60.2" fill="#73b2ff"/><path d="M497.1,432.1 L497.1,371.9 A72.2,60.2 0 0 1 534.9,483.3 Z" fill="#bed2ff"/></g><g stroke="#6a6662" stroke-width="0.95" stroke-linejoin="round"><path d="M267.4,446.5 A46.2,38.4 0 0 1 239.5,481.8 L239.5,485.1 A46.2,38.4 0 0 0 267.4,449.9 Z" fill="#727b9c" stroke="none"/><path d="M239.5,481.8 A46.2,38.4 0 0 1 175,446.5 L175,449.9 A46.2,38.4 0 0 0 239.5,485.1 Z" fill="#3a6093" stroke="none"/><path d="M267.4,446.5 v3.4 A46.2,38.4 0 0 1 175,449.9 v-3.4" fill="none"/><ellipse cx="221.2" cy="446.5" rx="46.2" ry="38.4" fill="#73b2ff"/><path d="M221.2,446.5 L221.2,408.1 A46.2,38.4 0 0 1 239.5,481.8 Z" fill="#bed2ff"/></g><g stroke="#6a6662" stroke-width="0.95" stroke-linejoin="round"><path d="M766.7,445.1 A45,37.2 0 0 1 754,471.1 L754,474.4 A45,37.2 0 0 0 766.7,448.5 Z" fill="#727b9c" stroke="none"/><path d="M754,471.1 A45,37.2 0 0 1 676.7,445.1 L676.7,448.5 A45,37.2 0 0 0 754,474.4 Z" fill="#3a6093" stroke="none"/><path d="M766.7,445.1 v3.3 A45,37.2 0 0 1 676.7,448.5 v-3.3" fill="none"/><ellipse cx="721.7" cy="445.1" rx="45" ry="37.2" fill="#73b2ff"/><path d="M721.7,445.1 L721.7,407.9 A45,37.2 0 0 1 754,471.1 Z" fill="#bed2ff"/></g><g stroke="#6a6662" stroke-width="0.95" stroke-linejoin="round"><path d="M682.3,562.2 A50.3,42.1 0 0 1 639.3,603.9 L639.3,607.4 A50.3,42.1 0 0 0 682.3,565.8 Z" fill="#727b9c" stroke="none"/><path d="M639.3,603.9 A50.3,42.1 0 0 1 581.7,562.2 L581.7,565.8 A50.3,42.1 0 0 0 639.3,607.4 Z" fill="#3a6093" stroke="none"/><path d="M682.3,562.2 v3.5 A50.3,42.1 0 0 1 581.7,565.8 v-3.5" fill="none"/><ellipse cx="632" cy="562.2" rx="50.3" ry="42.1" fill="#73b2ff"/><path d="M632,562.2 L632,520.1 A50.3,42.1 0 0 1 639.3,603.9 Z" fill="#bed2ff"/></g><g stroke="#6a6662" stroke-width="0.95" stroke-linejoin="round"><path d="M450.5,612.7 A53.5,44.8 0 0 1 416.3,654.5 L416.3,658.1 A53.5,44.8 0 0 0 450.5,616.3 Z" fill="#727b9c" stroke="none"/><path d="M416.3,654.5 A53.5,44.8 0 0 1 343.5,612.7 L343.5,616.3 A53.5,44.8 0 0 0 416.3,658.1 Z" fill="#3a6093" stroke="none"/><path d="M450.5,612.7 v3.6 A53.5,44.8 0 0 1 343.5,616.3 v-3.6" fill="none"/><ellipse cx="397" cy="612.7" rx="53.5" ry="44.8" fill="#73b2ff"/><path d="M397,612.7 L397,567.9 A53.5,44.8 0 0 1 416.3,654.5 Z" fill="#bed2ff"/></g><g stroke="#6a6662" stroke-width="0.95" stroke-linejoin="round"><path d="M948.9,520.1 A67.6,56.8 0 0 1 904.1,573.6 L904.1,577.7 A67.6,56.8 0 0 0 948.9,524.2 Z" fill="#727b9c" stroke="none"/><path d="M904.1,573.6 A67.6,56.8 0 0 1 813.7,520.1 L813.7,524.2 A67.6,56.8 0 0 0 904.1,577.7 Z" fill="#3a6093" stroke="none"/><path d="M948.9,520.1 v4 A67.6,56.8 0 0 1 813.7,524.2 v-4" fill="none"/><ellipse cx="881.3" cy="520.1" rx="67.6" ry="56.8" fill="#73b2ff"/><path d="M881.3,520.1 L881.3,463.3 A67.6,56.8 0 0 1 904.1,573.6 Z" fill="#bed2ff"/></g><g stroke="#6a6662" stroke-width="0.95" stroke-linejoin="round"><path d="M1132.6,502.9 A87.1,72.6 0 0 1 1089,565.9 L1089,570.5 A87.1,72.6 0 0 0 1132.6,507.6 Z" fill="#727b9c" stroke="none"/><path d="M1089,565.9 A87.1,72.6 0 0 1 958.4,502.9 L958.4,507.6 A87.1,72.6 0 0 0 1089,570.5 Z" fill="#3a6093" stroke="none"/><path d="M1132.6,502.9 v4.6 A87.1,72.6 0 0 1 958.4,507.6 v-4.6" fill="none"/><ellipse cx="1045.5" cy="502.9" rx="87.1" ry="72.6" fill="#73b2ff"/><path d="M1045.5,502.9 L1045.5,430.3 A87.1,72.6 0 0 1 1089,565.9 Z" fill="#bed2ff"/></g><g stroke="#6a6662" stroke-width="0.95" stroke-linejoin="round"><path d="M860.4,668 A72,59.5 0 0 1 836.8,712 L836.8,716.2 A72,59.5 0 0 0 860.4,672.1 Z" fill="#727b9c" stroke="none"/><path d="M836.8,712 A72,59.5 0 0 1 716.4,668 L716.4,672.1 A72,59.5 0 0 0 836.8,716.2 Z" fill="#3a6093" stroke="none"/><path d="M860.4,668 v4.2 A72,59.5 0 0 1 716.4,672.1 v-4.2" fill="none"/><ellipse cx="788.4" cy="668" rx="72" ry="59.5" fill="#73b2ff"/><path d="M788.4,668 L788.4,608.5 A72,59.5 0 0 1 836.8,712 Z" fill="#bed2ff"/></g><g stroke="#6a6662" stroke-width="0.95" stroke-linejoin="round"><path d="M1042.6,644.6 A71.3,59.6 0 0 1 985.9,703 L985.9,707.1 A71.3,59.6 0 0 0 1042.6,648.8 Z" fill="#727b9c" stroke="none"/><path d="M985.9,703 A71.3,59.6 0 0 1 900,644.6 L900,648.8 A71.3,59.6 0 0 0 985.9,707.1 Z" fill="#3a6093" stroke="none"/><path d="M1042.6,644.6 v4.1 A71.3,59.6 0 0 1 900,648.8 v-4.1" fill="none"/><ellipse cx="971.3" cy="644.6" rx="71.3" ry="59.6" fill="#73b2ff"/><path d="M971.3,644.6 L971.3,585 A71.3,59.6 0 0 1 985.9,703 Z" fill="#bed2ff"/></g><use href="#legA"/><use href="#common"/><text x="29.7" y="608" font-size="13.45">(rok 2013, v %)</text></g>
<g transform="translate(1240,876.5)"><rect x="15.2" y="50.2" width="1210.6" height="776" fill="#fff" stroke="#3a3a3a" stroke-width="1.3"/><text x="82" y="82.3" font-size="19.3" textLength="1075.6" lengthAdjust="spacingAndGlyphs">VÝDAJE NA VEŘEJNĚ PROSPĚŠNÉ PRÁCE A PODÍLY NEZAMĚSTNANÝCH OBYVATEL V JEDNOTLIVÝCH KRAJÍCH ČR</text><text x="616.8" y="101.8" font-size="16.67" text-anchor="middle">rok 2013</text><use href="#rKV" fill="#ababab" stroke="#ababab" stroke-width="0.6"/><use href="#rUL" fill="#808080" stroke="#808080" stroke-width="0.6"/><use href="#rLB" fill="#ababab" stroke="#ababab" stroke-width="0.6"/><use href="#rHK" fill="#d6d6d6" stroke="#d6d6d6" stroke-width="0.6"/><use href="#rPA" fill="#c0c0c0" stroke="#c0c0c0" stroke-width="0.6"/><use href="#rSC" fill="#d6d6d6" stroke="#d6d6d6" stroke-width="0.6"/><use href="#rPL" fill="#d6d6d6" stroke="#d6d6d6" stroke-width="0.6"/><use href="#rJC" fill="#d6d6d6" stroke="#d6d6d6" stroke-width="0.6"/><use href="#rVY" fill="#c0c0c0" stroke="#c0c0c0" stroke-width="0.6"/><use href="#rJM" fill="#ababab" stroke="#ababab" stroke-width="0.6"/><use href="#rOL" fill="#969696" stroke="#969696" stroke-width="0.6"/><use href="#rMS" fill="#969696" stroke="#969696" stroke-width="0.6"/><use href="#rZL" fill="#c0c0c0" stroke="#c0c0c0" stroke-width="0.6"/><use href="#rPR" fill="#ffffff" stroke="#ffffff" stroke-width="0.6"/><use href="#bthin"/><use href="#bthick"/><g stroke="#6a6662" stroke-width="0.95" stroke-linejoin="round"><path d="M217.4,295.9 A43.2,34.2 0 0 1 217.1,300 L217.1,303.3 A43.2,34.2 0 0 0 217.4,299.1 Z" fill="#727b9c" stroke="none"/><path d="M217.1,300 A43.2,34.2 0 0 1 131,295.9 L131,299.1 A43.2,34.2 0 0 0 217.1,303.3 Z" fill="#3a6093" stroke="none"/><path d="M217.4,295.9 v3.3 A43.2,34.2 0 0 1 131,299.1 v-3.3" fill="none"/><ellipse cx="174.2" cy="295.9" rx="43.2" ry="34.2" fill="#73b2ff"/><path d="M174.2,295.9 L174.2,261.7 A43.2,34.2 0 0 1 217.1,300 Z" fill="#bed2ff"/></g><g stroke="#6a6662" stroke-width="0.95" stroke-linejoin="round"><path d="M430.8,230.1 A81.3,65.3 0 0 1 430,239.1 L430,243.5 A81.3,65.3 0 0 0 430.8,234.5 Z" fill="#727b9c" stroke="none"/><path d="M430,239.1 A81.3,65.3 0 0 1 268.2,230.1 L268.2,234.5 A81.3,65.3 0 0 0 430,243.5 Z" fill="#3a6093" stroke="none"/><path d="M430.8,230.1 v4.4 A81.3,65.3 0 0 1 268.2,234.5 v-4.4" fill="none"/><ellipse cx="349.5" cy="230.1" rx="81.3" ry="65.3" fill="#73b2ff"/><path d="M349.5,230.1 L349.5,164.8 A81.3,65.3 0 0 1 430,239.1 Z" fill="#bed2ff"/></g><g stroke="#6a6662" stroke-width="0.95" stroke-linejoin="round"><path d="M610.9,206 A54.3,43.9 0 0 1 571.4,248.3 L571.4,251.9 A54.3,43.9 0 0 0 610.9,209.7 Z" fill="#727b9c" stroke="none"/><path d="M571.4,248.3 A54.3,43.9 0 0 1 502.3,206 L502.3,209.7 A54.3,43.9 0 0 0 571.4,251.9 Z" fill="#3a6093" stroke="none"/><path d="M610.9,206 v3.6 A54.3,43.9 0 0 1 502.3,209.7 v-3.6" fill="none"/><ellipse cx="556.6" cy="206" rx="54.3" ry="43.9" fill="#73b2ff"/><path d="M556.6,206 L556.6,162.1 A54.3,43.9 0 0 1 571.4,248.3 Z" fill="#bed2ff"/></g><g stroke="#6a6662" stroke-width="0.95" stroke-linejoin="round"><path d="M728,310.8 A45.2,35.7 0 0 1 637.6,310.8 L637.6,314.2 A45.2,35.7 0 0 0 728,314.2 Z" fill="#3a6093" stroke="none"/><path d="M728,310.8 v3.4 A45.2,35.7 0 0 1 637.6,314.2 v-3.4" fill="none"/><ellipse cx="682.8" cy="310.8" rx="45.2" ry="35.7" fill="#73b2ff"/><path d="M682.8,310.8 L682.8,275.1 A45.2,35.7 0 0 1 726.4,301.3 Z" fill="#bed2ff"/></g><g stroke="#6a6662" stroke-width="0.95" stroke-linejoin="round"><path d="M460,362.2 A16.9,13.3 0 0 1 426.2,362.2 L426.2,364.8 A16.9,13.3 0 0 0 460,364.8 Z" fill="#3a6093" stroke="none"/><path d="M460,362.2 v2.5 A16.9,13.3 0 0 1 426.2,364.8 v-2.5" fill="none"/><ellipse cx="443.1" cy="362.2" rx="16.9" ry="13.3" fill="#73b2ff"/><path d="M443.1,362.2 L443.1,348.9 A16.9,13.3 0 0 1 444,348.9 Z" fill="#bed2ff"/></g><g stroke="#6a6662" stroke-width="0.95" stroke-linejoin="round"><path d="M558.3,432.4 A62.4,50.2 0 0 1 433.5,432.4 L433.5,436.2 A62.4,50.2 0 0 0 558.3,436.2 Z" fill="#3a6093" stroke="none"/><path d="M558.3,432.4 v3.9 A62.4,50.2 0 0 1 433.5,436.2 v-3.9" fill="none"/><ellipse cx="495.9" cy="432.4" rx="62.4" ry="50.2" fill="#73b2ff"/><path d="M495.9,432.4 L495.9,382.2 A62.4,50.2 0 0 1 550.3,407.8 Z" fill="#bed2ff"/></g><g stroke="#6a6662" stroke-width="0.95" stroke-linejoin="round"><path d="M265.2,450.3 A40.5,32.8 0 0 1 184.2,450.3 L184.2,453.6 A40.5,32.8 0 0 0 265.2,453.6 Z" fill="#3a6093" stroke="none"/><path d="M265.2,450.3 v3.2 A40.5,32.8 0 0 1 184.2,453.6 v-3.2" fill="none"/><ellipse cx="224.7" cy="450.3" rx="40.5" ry="32.8" fill="#73b2ff"/><path d="M224.7,450.3 L224.7,417.5 A40.5,32.8 0 0 1 259,432.9 Z" fill="#bed2ff"/></g><g stroke="#6a6662" stroke-width="0.95" stroke-linejoin="round"><path d="M772.6,444.8 A53.1,42.3 0 0 1 760.7,471.4 L760.7,475 A53.1,42.3 0 0 0 772.6,448.3 Z" fill="#727b9c" stroke="none"/><path d="M760.7,471.4 A53.1,42.3 0 0 1 666.4,444.8 L666.4,448.3 A53.1,42.3 0 0 0 760.7,475 Z" fill="#3a6093" stroke="none"/><path d="M772.6,444.8 v3.6 A53.1,42.3 0 0 1 666.4,448.3 v-3.6" fill="none"/><ellipse cx="719.5" cy="444.8" rx="53.1" ry="42.3" fill="#73b2ff"/><path d="M719.5,444.8 L719.5,402.5 A53.1,42.3 0 0 1 760.7,471.4 Z" fill="#bed2ff"/></g><g stroke="#6a6662" stroke-width="0.95" stroke-linejoin="round"><path d="M676.5,558.9 A48.6,38.8 0 0 1 675.2,567.8 L675.2,571.2 A48.6,38.8 0 0 0 676.5,562.3 Z" fill="#727b9c" stroke="none"/><path d="M675.2,567.8 A48.6,38.8 0 0 1 579.3,558.9 L579.3,562.3 A48.6,38.8 0 0 0 675.2,571.2 Z" fill="#3a6093" stroke="none"/><path d="M676.5,558.9 v3.5 A48.6,38.8 0 0 1 579.3,562.3 v-3.5" fill="none"/><ellipse cx="627.9" cy="558.9" rx="48.6" ry="38.8" fill="#73b2ff"/><path d="M627.9,558.9 L627.9,520.1 A48.6,38.8 0 0 1 675.2,567.8 Z" fill="#bed2ff"/></g><g stroke="#6a6662" stroke-width="0.95" stroke-linejoin="round"><path d="M449.7,611.5 A54.7,44.1 0 0 1 448.6,620.4 L448.6,624.1 A54.7,44.1 0 0 0 449.7,615.1 Z" fill="#727b9c" stroke="none"/><path d="M448.6,620.4 A54.7,44.1 0 0 1 340.3,611.5 L340.3,615.1 A54.7,44.1 0 0 0 448.6,624.1 Z" fill="#3a6093" stroke="none"/><path d="M449.7,611.5 v3.6 A54.7,44.1 0 0 1 340.3,615.1 v-3.6" fill="none"/><ellipse cx="395" cy="611.5" rx="54.7" ry="44.1" fill="#73b2ff"/><path d="M395,611.5 L395,567.4 A54.7,44.1 0 0 1 448.6,620.4 Z" fill="#bed2ff"/></g><g stroke="#6a6662" stroke-width="0.95" stroke-linejoin="round"><path d="M954.3,513.7 A71.7,56.4 0 0 1 810.9,513.7 L810.9,517.9 A71.7,56.4 0 0 0 954.3,517.9 Z" fill="#3a6093" stroke="none"/><path d="M954.3,513.7 v4.2 A71.7,56.4 0 0 1 810.9,517.9 v-4.2" fill="none"/><ellipse cx="882.6" cy="513.7" rx="71.7" ry="56.4" fill="#73b2ff"/><path d="M882.6,513.7 L882.6,457.3 A71.7,56.4 0 0 1 936.1,476.1 Z" fill="#bed2ff"/></g><g stroke="#6a6662" stroke-width="0.95" stroke-linejoin="round"><path d="M1133.1,497.7 A82.8,66 0 0 1 967.5,497.7 L967.5,502.1 A82.8,66 0 0 0 1133.1,502.1 Z" fill="#3a6093" stroke="none"/><path d="M1133.1,497.7 v4.5 A82.8,66 0 0 1 967.5,502.1 v-4.5" fill="none"/><ellipse cx="1050.3" cy="497.7" rx="82.8" ry="66" fill="#73b2ff"/><path d="M1050.3,497.7 L1050.3,431.7 A82.8,66 0 0 1 1060,432.2 Z" fill="#bed2ff"/></g><g stroke="#6a6662" stroke-width="0.95" stroke-linejoin="round"><path d="M856.8,668.1 A68.2,54 0 0 1 855.5,678.4 L855.5,682.5 A68.2,54 0 0 0 856.8,672.2 Z" fill="#727b9c" stroke="none"/><path d="M855.5,678.4 A68.2,54 0 0 1 720.4,668.1 L720.4,672.2 A68.2,54 0 0 0 855.5,682.5 Z" fill="#3a6093" stroke="none"/><path d="M856.8,668.1 v4 A68.2,54 0 0 1 720.4,672.2 v-4" fill="none"/><ellipse cx="788.6" cy="668.1" rx="68.2" ry="54" fill="#73b2ff"/><path d="M788.6,668.1 L788.6,614.1 A68.2,54 0 0 1 855.5,678.4 Z" fill="#bed2ff"/></g><g stroke="#6a6662" stroke-width="0.95" stroke-linejoin="round"><path d="M1036.7,644.5 A62.5,48.7 0 0 1 911.7,644.5 L911.7,648.3 A62.5,48.7 0 0 0 1036.7,648.3 Z" fill="#3a6093" stroke="none"/><path d="M1036.7,644.5 v3.9 A62.5,48.7 0 0 1 911.7,648.3 v-3.9" fill="none"/><ellipse cx="974.2" cy="644.5" rx="62.5" ry="48.7" fill="#73b2ff"/><path d="M974.2,644.5 L974.2,595.8 A62.5,48.7 0 0 1 1021.1,612.3 Z" fill="#bed2ff"/></g><use href="#legB"/><use href="#common"/><text x="29.7" y="608" font-size="13.45">(rok 2013, v %)</text></g>

</svg>
</body></html>
